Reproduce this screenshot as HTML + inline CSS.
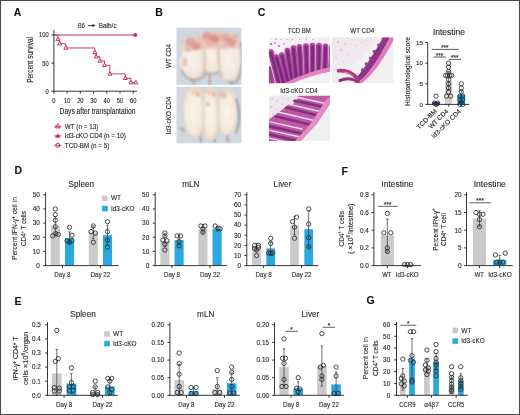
<!DOCTYPE html>
<html><head><meta charset="utf-8"><title>Figure</title>
<style>
html,body{margin:0;padding:0;background:#fff;}
body{width:520px;height:415px;overflow:hidden;}
svg{display:block;font-family:"Liberation Sans", sans-serif;filter:blur(0.3px);}
text{stroke:#2a2a2a;stroke-width:0.12px;}
</style></head>
<body>
<svg width="520" height="415" viewBox="0 0 520 415">
<rect width="520" height="415" fill="#fff"/>
<defs><filter id="bl1" x="-20%" y="-20%" width="140%" height="140%"><feGaussianBlur stdDeviation="0.9"/></filter><filter id="bl3" x="-20%" y="-20%" width="140%" height="140%"><feGaussianBlur stdDeviation="1.6"/></filter><filter id="bl2" x="-20%" y="-20%" width="140%" height="140%"><feGaussianBlur stdDeviation="0.6"/></filter><clipPath id="cpB1"><rect x="176.3" y="27.4" width="65.3" height="57.5"/></clipPath><clipPath id="cpB2"><rect x="176.3" y="86.4" width="65.3" height="57.0"/></clipPath><clipPath id="cpC1"><rect x="268.7" y="37.2" width="61.2" height="46.1"/></clipPath><clipPath id="cpC2"><rect x="331.7" y="37.2" width="61.8" height="46.1"/></clipPath><clipPath id="cpC3"><rect x="268.8" y="95.6" width="61.2" height="45.3"/></clipPath></defs>
<defs><radialGradient id="mg1" cx="50%" cy="55%" r="60%"><stop offset="0" stop-color="#f9f2ea"/><stop offset="0.65" stop-color="#f2e6dc"/><stop offset="1" stop-color="#d9c5b8"/></radialGradient><radialGradient id="mg2" cx="50%" cy="50%" r="60%"><stop offset="0" stop-color="#faf4ea"/><stop offset="0.65" stop-color="#f4eadc"/><stop offset="1" stop-color="#dccbb8"/></radialGradient></defs>
<g clip-path="url(#cpB1)">
<rect x="176.3" y="27.4" width="65.3" height="57.5" fill="#cfd6de"/>
<g filter="url(#bl1)">
<path d="M193,76 L194,86 M209.6,70 L209.6,86 M231,80 L233,86" stroke="#b39a90" stroke-width="1.8" fill="none"/>
<path d="M181,60 C180,70 186,80 194,80 C200,80 205,76 207,72 C212,74 216,74 219,72 C222,80 230,84 236,82 C241,76 242,60 241,44" stroke="#a9a29e" stroke-width="1.8" fill="none"/>
<path d="M184,40 C190,35 200,36 204,42 C207,52 206,66 204,74 C201,79 192,80 187,76 C184,72 181,68 178,64 C176,60 179,58 182,58 C182,50 181,45 184,40 Z" fill="url(#mg1)"/>
<path d="M202,35 C206,30 216,29 221,33 C224,40 224,56 222,66 C220,72 212,74 206,72 C201,66 200,50 202,35 Z" fill="url(#mg1)"/>
<path d="M218,36 C223,31 234,32 238,38 C242,46 242,62 240,72 C238,80 229,83 223,80 C218,76 216,62 216,50 C216,44 217,40 218,36 Z" fill="url(#mg1)"/>
<path d="M204,46 C206,56 205,66 203,76" stroke="#cdb8a8" stroke-width="1.4" fill="none"/>
<path d="M219,44 C218,56 219,68 222,78" stroke="#cdb8a8" stroke-width="1.4" fill="none"/>
<path d="M241,42 C243,56 242,68 239,78" stroke="#958a86" stroke-width="1.2" fill="none"/>
<path d="M184,44 C190,36 200,38 206,34 C212,30 222,32 230,34 C236,36 240,40 240,46 C236,50 228,48 222,50 C214,50 208,48 200,50 C194,52 186,52 184,44 Z" fill="#ebc3b9" opacity="0.85"/>
<ellipse cx="190" cy="42" rx="5" ry="4" fill="#e2a69c"/>
<ellipse cx="196" cy="46" rx="5" ry="4" fill="#de9c92"/>
<ellipse cx="188" cy="49" rx="4" ry="3" fill="#e8b8ae"/>
<ellipse cx="207" cy="36" rx="5" ry="4" fill="#e0a096"/>
<ellipse cx="214" cy="39" rx="5" ry="4.5" fill="#da948a"/>
<ellipse cx="210" cy="43" rx="4" ry="3" fill="#e6b0a6"/>
<ellipse cx="225" cy="38" rx="5" ry="4" fill="#e4aaa0"/>
<ellipse cx="231" cy="42" rx="5" ry="4.5" fill="#de9b90"/>
<ellipse cx="235" cy="37" rx="3" ry="3" fill="#e8b6ac"/>
<ellipse cx="226" cy="46" rx="3.5" ry="3" fill="#eabdb3"/>
<ellipse cx="201" cy="40" rx="3" ry="3" fill="#ebc0b6"/>
<ellipse cx="185" cy="62" rx="2.5" ry="4" fill="#e8c0b4"/>
</g></g>
<g clip-path="url(#cpB2)">
<rect x="176.3" y="86.4" width="65.3" height="57" fill="#d0d8e1"/>
<g filter="url(#bl1)">
<path d="M180,128 L185,131 M200,134 L201,143 M216,136 L214,143 M227,134 L228,143" stroke="#a89088" stroke-width="1.6" fill="none"/>
<path d="M236,98 C240,110 240,122 236,133" stroke="#7f7a7c" stroke-width="1.4" fill="none"/>
<path d="M187,89 C193,85 200,86 203,91 C205,104 205,122 204,133 C200,138 191,138 187,134 C184,126 183,108 183,100 C183,95 184,92 187,89 Z" fill="url(#mg2)"/>
<path d="M203,91 C206,86 214,86 217,91 C219,104 219,124 218,137 C214,141 206,141 203,137 C201,126 201,106 203,91 Z" fill="url(#mg2)"/>
<path d="M217,92 C221,88 230,88 233,93 C237,103 238,120 236,130 C233,136 225,137 220,133 C217,124 216,106 217,92 Z" fill="url(#mg2)"/>
<path d="M203.5,96 C204.5,110 204.5,124 203.5,134 M218,98 C218.5,110 219,124 219.5,134" stroke="#d8c6b4" stroke-width="1.1" fill="none"/>
<ellipse cx="195" cy="92" rx="4" ry="3" fill="#eccebe"/>
<ellipse cx="210" cy="92" rx="4" ry="3" fill="#eecabc"/>
<ellipse cx="223" cy="95" rx="4" ry="3.5" fill="#ebc2b2"/>
<ellipse cx="208" cy="104" rx="2" ry="1.5" fill="#d0b4a4"/>
<ellipse cx="198" cy="95" rx="1.2" ry="1.2" fill="#a88070"/>
<ellipse cx="214" cy="95" rx="1.2" ry="1.2" fill="#a88070"/>
</g></g>
<g clip-path="url(#cpC1)">
<rect x="268.7" y="37.2" width="61.2" height="46.1" fill="#f4eff4"/>
<g filter="url(#bl2)">
<circle cx="276" cy="39.5" r="0.6" fill="#a8589f"/>
<circle cx="281" cy="39.2" r="0.5" fill="#a8589f"/>
<circle cx="287" cy="39.5" r="0.6" fill="#a8589f"/>
<circle cx="292" cy="39.2" r="0.5" fill="#a8589f"/>
<circle cx="300" cy="39.5" r="0.5" fill="#a8589f"/>
<circle cx="306" cy="39.3" r="0.5" fill="#a8589f"/>
<circle cx="313" cy="39.2" r="0.5" fill="#a8589f"/>
<circle cx="271" cy="44" r="1.1" fill="#a8589f"/>
<circle cx="275" cy="43" r="0.8" fill="#a8589f"/>
<circle cx="279" cy="46" r="0.9" fill="#a8589f"/>
<circle cx="284" cy="44" r="0.7" fill="#a8589f"/>
<path d="M268.7,66 C276,68 284,70 292,70 C304,69 318,66 331,63 L331,70 C316,73 300,78 288,84 L268.7,84 Z" fill="#9a4492"/>
<path d="M271.0,52.2 L279,84" stroke="#f4e2f1" stroke-width="7.4" stroke-linecap="round"/>
<path d="M276.5,57.2 L283.5,82" stroke="#f4e2f1" stroke-width="7.4" stroke-linecap="round"/>
<path d="M282.0,55.2 L287.5,80" stroke="#f4e2f1" stroke-width="7.4" stroke-linecap="round"/>
<path d="M287.5,50.7 L291.5,78" stroke="#f4e2f1" stroke-width="7.4" stroke-linecap="round"/>
<path d="M293.5,48.2 L296,76.5" stroke="#f4e2f1" stroke-width="7.4" stroke-linecap="round"/>
<path d="M299.5,47.0 L301,75.5" stroke="#f4e2f1" stroke-width="7.4" stroke-linecap="round"/>
<path d="M306.0,46.2 L306.8,74.5" stroke="#f4e2f1" stroke-width="7.4" stroke-linecap="round"/>
<path d="M312.5,45.7 L312.6,73.5" stroke="#f4e2f1" stroke-width="7.4" stroke-linecap="round"/>
<path d="M319.0,45.7 L318.6,72.5" stroke="#f4e2f1" stroke-width="7.4" stroke-linecap="round"/>
<path d="M325.5,46.400000000000006 L324.8,71.5" stroke="#f4e2f1" stroke-width="7.4" stroke-linecap="round"/>
<path d="M332,47.7 L331,70.5" stroke="#f4e2f1" stroke-width="7.4" stroke-linecap="round"/>
<path d="M271.0,52.2 L279,84" stroke="#b04c9e" stroke-width="5.9" stroke-linecap="round"/>
<path d="M276.5,57.2 L283.5,82" stroke="#b04c9e" stroke-width="5.9" stroke-linecap="round"/>
<path d="M282.0,55.2 L287.5,80" stroke="#b04c9e" stroke-width="5.9" stroke-linecap="round"/>
<path d="M287.5,50.7 L291.5,78" stroke="#b04c9e" stroke-width="5.9" stroke-linecap="round"/>
<path d="M293.5,48.2 L296,76.5" stroke="#b04c9e" stroke-width="5.9" stroke-linecap="round"/>
<path d="M299.5,47.0 L301,75.5" stroke="#b04c9e" stroke-width="5.9" stroke-linecap="round"/>
<path d="M306.0,46.2 L306.8,74.5" stroke="#b04c9e" stroke-width="5.9" stroke-linecap="round"/>
<path d="M312.5,45.7 L312.6,73.5" stroke="#b04c9e" stroke-width="5.9" stroke-linecap="round"/>
<path d="M319.0,45.7 L318.6,72.5" stroke="#b04c9e" stroke-width="5.9" stroke-linecap="round"/>
<path d="M325.5,46.400000000000006 L324.8,71.5" stroke="#b04c9e" stroke-width="5.9" stroke-linecap="round"/>
<path d="M332,47.7 L331,70.5" stroke="#b04c9e" stroke-width="5.9" stroke-linecap="round"/>
<path d="M271.0,53.0 L279,84" stroke="#7c2c7e" stroke-width="3.0" stroke-linecap="round"/>
<path d="M276.5,58.0 L283.5,82" stroke="#7c2c7e" stroke-width="3.0" stroke-linecap="round"/>
<path d="M282.0,56.0 L287.5,80" stroke="#7c2c7e" stroke-width="3.0" stroke-linecap="round"/>
<path d="M287.5,51.5 L291.5,78" stroke="#7c2c7e" stroke-width="3.0" stroke-linecap="round"/>
<path d="M293.5,49.0 L296,76.5" stroke="#7c2c7e" stroke-width="3.0" stroke-linecap="round"/>
<path d="M299.5,47.8 L301,75.5" stroke="#7c2c7e" stroke-width="3.0" stroke-linecap="round"/>
<path d="M306.0,47.0 L306.8,74.5" stroke="#7c2c7e" stroke-width="3.0" stroke-linecap="round"/>
<path d="M312.5,46.5 L312.6,73.5" stroke="#7c2c7e" stroke-width="3.0" stroke-linecap="round"/>
<path d="M319.0,46.5 L318.6,72.5" stroke="#7c2c7e" stroke-width="3.0" stroke-linecap="round"/>
<path d="M325.5,47.2 L324.8,71.5" stroke="#7c2c7e" stroke-width="3.0" stroke-linecap="round"/>
<path d="M332,48.5 L331,70.5" stroke="#7c2c7e" stroke-width="3.0" stroke-linecap="round"/>
<path d="M284,84 C296,77 312,71 331,67 L331,71.5 C314,74.5 300,80 292,84 Z" fill="#e088c4"/>
<path d="M292,84 C300,80 314,74.5 331,71.5 L331,84 Z" fill="#f4f1f4"/>
</g></g>
<g clip-path="url(#cpC2)">
<rect x="331.7" y="37.2" width="61.8" height="46.1" fill="#f1f0f1"/>
<g filter="url(#bl2)">
<path d="M331.7,37.2 L378,37.2 C372,46 366,54 360,60 L342,70 L331.7,72 Z" fill="#efe9ee"/>
<circle cx="338" cy="42" r="0.8" fill="#c9a0c4"/>
<circle cx="345" cy="44" r="0.7" fill="#c9a0c4"/>
<circle cx="352" cy="40" r="0.6" fill="#c9a0c4"/>
<circle cx="341" cy="50" r="0.8" fill="#c9a0c4"/>
<circle cx="348" cy="54" r="0.6" fill="#c9a0c4"/>
<circle cx="336" cy="58" r="0.7" fill="#c9a0c4"/>
<circle cx="356" cy="46" r="0.6" fill="#c9a0c4"/>
<circle cx="362" cy="42" r="0.5" fill="#c9a0c4"/>
<circle cx="344" cy="62" r="0.6" fill="#c9a0c4"/>
<circle cx="366" cy="40" r="0.5" fill="#c9a0c4"/>
<path d="M357,77 C361,72 365,67 368,62 C372,56 377,48 381,41 L383,37.2 L390,37.2 C386,45 381,54 376,62 C370,71 364,78 359,82 Z" fill="#8e3688"/>
<circle cx="366.5" cy="64" r="1.8" fill="#9c3c8e"/>
<circle cx="370.5" cy="58" r="1.6" fill="#9c3c8e"/>
<circle cx="374.5" cy="51.5" r="1.8" fill="#9c3c8e"/>
<circle cx="378.5" cy="45" r="1.5" fill="#9c3c8e"/>
<circle cx="362.5" cy="70" r="1.7" fill="#9c3c8e"/>
<circle cx="383" cy="39" r="1.4" fill="#9c3c8e"/>
<path d="M359,82 C364,78 370,71 376,62 C381,54 386,45 390,37.2 L393.5,37.2 L393.5,40.5 C389,48.5 384,57.5 379,64.5 C373,73 366,80 361.5,83.3 L357,83.3 Z" fill="#e07abb"/>
<path d="M357,78 C352,72.5 345,70 338.5,70.8" stroke="#b3367f" stroke-width="3.6" stroke-linecap="round" fill="none"/>
<path d="M358,82 C353,78.5 346,78 340,80.5" stroke="#98327f" stroke-width="3.2" stroke-linecap="round" fill="none"/>
<path d="M344,72 C348,72.5 351,74 353,76" stroke="#e8c0dc" stroke-width="0.6" fill="none"/>
</g></g>
<g clip-path="url(#cpC3)">
<rect x="268.8" y="95.6" width="61.2" height="45.3" fill="#f1f0f1"/>
<g filter="url(#bl2)">
<path d="M268.8,95.6 L300,95.6 L296,99 L284,108 L268.8,120 Z" fill="#eee7ed"/>
<circle cx="272" cy="99" r="0.7" fill="#c8a0c4"/>
<circle cx="277" cy="101" r="0.6" fill="#c8a0c4"/>
<circle cx="283" cy="98" r="0.6" fill="#c8a0c4"/>
<circle cx="271" cy="107" r="0.7" fill="#c8a0c4"/>
<circle cx="276" cy="110" r="0.6" fill="#c8a0c4"/>
<circle cx="282" cy="104" r="0.5" fill="#c8a0c4"/>
<circle cx="288" cy="99" r="0.5" fill="#c8a0c4"/>
<circle cx="273" cy="114" r="0.6" fill="#c8a0c4"/>
<path d="M268.8,119.5 L282.5,109.5 L296,98 L299,95.6 L331,95.6 L331,102.3 L316.5,124 L300.7,141 L268.8,141 Z" fill="#bc58a4"/>
<path d="M287,104 L295,97 L299,97 L293,104 Z" fill="#f2e6ef"/>
<clipPath id="cpT3"><path d="M268.8,119.5 L282.5,109.5 L296,98 L299,95.6 L331,95.6 L331,102.3 L316.5,124 L300.7,141 L268.8,141 Z"/></clipPath>
<g clip-path="url(#cpT3)">
<line x1="266" y1="125.5" x2="302" y2="133.5" stroke="#80307e" stroke-width="2.8" stroke-linecap="round"/>
<line x1="266" y1="133.5" x2="298" y2="141" stroke="#80307e" stroke-width="2.8" stroke-linecap="round"/>
<line x1="276" y1="116.5" x2="312" y2="125" stroke="#80307e" stroke-width="2.8" stroke-linecap="round"/>
<line x1="286" y1="107.5" x2="318" y2="115.5" stroke="#80307e" stroke-width="2.8" stroke-linecap="round"/>
<line x1="294" y1="100.5" x2="326" y2="107.5" stroke="#80307e" stroke-width="2.8" stroke-linecap="round"/>
<line x1="262" y1="141" x2="290" y2="147" stroke="#80307e" stroke-width="2.8" stroke-linecap="round"/>
<line x1="266" y1="121" x2="302" y2="129" stroke="#f2d8ec" stroke-width="1.3" stroke-linecap="round"/>
<line x1="266" y1="129.5" x2="300" y2="137" stroke="#f2d8ec" stroke-width="1.3" stroke-linecap="round"/>
<line x1="266" y1="137.5" x2="296" y2="144" stroke="#f2d8ec" stroke-width="1.3" stroke-linecap="round"/>
<line x1="278" y1="112" x2="314" y2="120.5" stroke="#f2d8ec" stroke-width="1.3" stroke-linecap="round"/>
<line x1="288" y1="104" x2="320" y2="111.5" stroke="#f2d8ec" stroke-width="1.3" stroke-linecap="round"/>
<line x1="296" y1="97" x2="328" y2="104" stroke="#f2d8ec" stroke-width="1.3" stroke-linecap="round"/>
</g>
<path d="M331,97 L331,102.3 L316.5,124 L300.7,141 L295,141 L311.5,122.5 L326.5,99 Z" fill="#e68cc4"/>
</g></g>
<rect x="0.5" y="0.5" width="519" height="414" fill="none" stroke="#4d4d4d" stroke-width="1.1"/>
<text x="13.80" y="16.00" font-size="10.5" text-anchor="start" fill="#111" font-weight="bold" >A</text>
<line x1="53.90" y1="29.80" x2="53.90" y2="91.65" stroke="#222" stroke-width="0.9"/>
<line x1="53.45" y1="91.20" x2="137.00" y2="91.20" stroke="#222" stroke-width="0.9"/>
<line x1="51.30" y1="91.20" x2="53.90" y2="91.20" stroke="#222" stroke-width="0.9"/>
<line x1="51.30" y1="63.10" x2="53.90" y2="63.10" stroke="#222" stroke-width="0.9"/>
<line x1="51.30" y1="35.00" x2="53.90" y2="35.00" stroke="#222" stroke-width="0.9"/>
<text x="48.60" y="37.40" font-size="6.8" text-anchor="end" fill="#2a2a2a" textLength="9.60" lengthAdjust="spacingAndGlyphs" >100</text>
<text x="48.60" y="65.50" font-size="6.8" text-anchor="end" fill="#2a2a2a" textLength="6.40" lengthAdjust="spacingAndGlyphs" >50</text>
<text x="48.60" y="93.60" font-size="6.8" text-anchor="end" fill="#2a2a2a" textLength="3.20" lengthAdjust="spacingAndGlyphs" >0</text>
<line x1="53.90" y1="91.20" x2="53.90" y2="93.60" stroke="#222" stroke-width="0.9"/>
<text x="53.90" y="103.00" font-size="6.8" text-anchor="middle" fill="#2a2a2a" textLength="3.20" lengthAdjust="spacingAndGlyphs" >0</text>
<line x1="67.12" y1="91.20" x2="67.12" y2="93.60" stroke="#222" stroke-width="0.9"/>
<text x="67.12" y="103.00" font-size="6.8" text-anchor="middle" fill="#2a2a2a" textLength="6.40" lengthAdjust="spacingAndGlyphs" >10</text>
<line x1="80.34" y1="91.20" x2="80.34" y2="93.60" stroke="#222" stroke-width="0.9"/>
<text x="80.34" y="103.00" font-size="6.8" text-anchor="middle" fill="#2a2a2a" textLength="6.40" lengthAdjust="spacingAndGlyphs" >20</text>
<line x1="93.56" y1="91.20" x2="93.56" y2="93.60" stroke="#222" stroke-width="0.9"/>
<text x="93.56" y="103.00" font-size="6.8" text-anchor="middle" fill="#2a2a2a" textLength="6.40" lengthAdjust="spacingAndGlyphs" >30</text>
<line x1="106.78" y1="91.20" x2="106.78" y2="93.60" stroke="#222" stroke-width="0.9"/>
<text x="106.78" y="103.00" font-size="6.8" text-anchor="middle" fill="#2a2a2a" textLength="6.40" lengthAdjust="spacingAndGlyphs" >40</text>
<line x1="120.00" y1="91.20" x2="120.00" y2="93.60" stroke="#222" stroke-width="0.9"/>
<text x="120.00" y="103.00" font-size="6.8" text-anchor="middle" fill="#2a2a2a" textLength="6.40" lengthAdjust="spacingAndGlyphs" >50</text>
<line x1="133.22" y1="91.20" x2="133.22" y2="93.60" stroke="#222" stroke-width="0.9"/>
<text x="133.22" y="103.00" font-size="6.8" text-anchor="middle" fill="#2a2a2a" textLength="6.40" lengthAdjust="spacingAndGlyphs" >60</text>
<text x="97.50" y="114.40" font-size="8.2" text-anchor="middle" fill="#2a2a2a" textLength="75.80" lengthAdjust="spacingAndGlyphs" >Days after transplantation</text>
<text x="33.30" y="59.90" font-size="8.5" text-anchor="middle" fill="#2a2a2a" textLength="45.90" lengthAdjust="spacingAndGlyphs" transform="rotate(-90 33.30 59.90)" >Percent survival</text>
<text x="77.90" y="27.70" font-size="6.3" text-anchor="start" fill="#2a2a2a" textLength="6.90" lengthAdjust="spacingAndGlyphs" >B6</text>
<line x1="88.00" y1="25.60" x2="93.50" y2="25.60" stroke="#222" stroke-width="0.9"/>
<path d="M92.4,24.1 L95.6,25.6 L92.4,27.1 Z" fill="#222"/>
<text x="98.80" y="27.70" font-size="6.3" text-anchor="start" fill="#2a2a2a" textLength="17.80" lengthAdjust="spacingAndGlyphs" >Balb/c</text>
<line x1="53.90" y1="35.00" x2="135.30" y2="35.00" stroke="#c42a4c" stroke-width="1.0"/>
<circle cx="135.3" cy="35.0" r="1.7" fill="#c42a4c" stroke="#c42a4c" stroke-width="0.6"/>
<path d="M53.90,35.00 L57.87,35.00 L57.87,39.32 L59.72,39.32 L59.72,43.65 L65.80,43.65 L65.80,47.97 L94.88,47.97 L94.88,52.29 L96.20,52.29 L96.20,56.62 L99.77,56.62 L99.77,60.94 L104.53,60.94 L104.53,65.26 L109.82,65.26 L109.82,73.91 L125.29,73.91 L125.29,78.23 L130.97,78.23 L130.97,82.55 L135.86,82.55" fill="none" stroke="#c42a4c" stroke-width="0.9"/>
<path d="M57.87,37.22 L59.82,40.61 L55.92,40.61 Z" fill="#fff" stroke="#c42a4c" stroke-width="0.95"/>
<path d="M59.72,41.54 L61.67,44.94 L57.77,44.94 Z" fill="#fff" stroke="#c42a4c" stroke-width="0.95"/>
<path d="M65.80,45.87 L67.75,49.26 L63.85,49.26 Z" fill="#fff" stroke="#c42a4c" stroke-width="0.95"/>
<path d="M94.88,50.19 L96.83,53.58 L92.93,53.58 Z" fill="#fff" stroke="#c42a4c" stroke-width="0.95"/>
<path d="M96.20,54.51 L98.15,57.90 L94.25,57.90 Z" fill="#fff" stroke="#c42a4c" stroke-width="0.95"/>
<path d="M99.77,58.83 L101.72,62.23 L97.82,62.23 Z" fill="#fff" stroke="#c42a4c" stroke-width="0.95"/>
<path d="M104.53,63.16 L106.48,66.55 L102.58,66.55 Z" fill="#fff" stroke="#c42a4c" stroke-width="0.95"/>
<path d="M109.82,71.80 L111.77,75.20 L107.87,75.20 Z" fill="#fff" stroke="#c42a4c" stroke-width="0.95"/>
<path d="M125.29,76.13 L127.24,79.52 L123.34,79.52 Z" fill="#fff" stroke="#c42a4c" stroke-width="0.95"/>
<path d="M130.97,80.45 L132.92,83.84 L129.02,83.84 Z" fill="#fff" stroke="#c42a4c" stroke-width="0.95"/>
<path d="M135.86,80.45 L137.81,83.84 L133.91,83.84 Z" fill="#fff" stroke="#c42a4c" stroke-width="0.95"/>
<line x1="54.30" y1="126.30" x2="61.30" y2="126.30" stroke="#c42a4c" stroke-width="0.9"/>
<path d="M57.80,123.71 L60.20,127.89 L55.40,127.89 Z" fill="#fff" stroke="#c42a4c" stroke-width="0.95"/>
<line x1="55.60" y1="126.60" x2="60.00" y2="126.60" stroke="#c42a4c" stroke-width="0.8"/>
<line x1="54.30" y1="135.90" x2="61.30" y2="135.90" stroke="#c42a4c" stroke-width="0.9"/>
<path d="M57.8,133.9 L60.0,137.3 L55.6,137.3 Z" fill="#c42a4c" stroke="#c42a4c" stroke-width="0.6"/>
<circle cx="57.8" cy="145.3" r="2.0" fill="#fff" stroke="#c42a4c" stroke-width="1.0"/>
<line x1="54.30" y1="145.30" x2="61.30" y2="145.30" stroke="#c42a4c" stroke-width="0.9"/>
<text x="64.80" y="128.50" font-size="6.9" text-anchor="start" fill="#2a2a2a" textLength="33.50" lengthAdjust="spacingAndGlyphs" >WT (n = 13)</text>
<text x="64.80" y="138.10" font-size="6.9" text-anchor="start" fill="#2a2a2a" textLength="61.00" lengthAdjust="spacingAndGlyphs" >Id3-cKO CD4 (n = 10)</text>
<text x="64.80" y="147.60" font-size="6.9" text-anchor="start" fill="#2a2a2a" textLength="44.50" lengthAdjust="spacingAndGlyphs" >TCD-BM (n = 5)</text>
<text x="155.30" y="16.20" font-size="10.5" text-anchor="start" fill="#111" font-weight="bold" >B</text>
<text x="171.00" y="55.90" font-size="6.4" text-anchor="middle" fill="#2a2a2a" textLength="24.10" lengthAdjust="spacingAndGlyphs" transform="rotate(-90 171.00 55.90)" >WT CD4</text>
<text x="171.00" y="115.40" font-size="6.4" text-anchor="middle" fill="#2a2a2a" textLength="37.60" lengthAdjust="spacingAndGlyphs" transform="rotate(-90 171.00 115.40)" >Id3-cKO CD4</text>
<text x="257.80" y="16.40" font-size="10.5" text-anchor="start" fill="#111" font-weight="bold" >C</text>
<text x="299.30" y="32.60" font-size="6.6" text-anchor="middle" fill="#2a2a2a" textLength="23.20" lengthAdjust="spacingAndGlyphs" >TCD BM</text>
<text x="362.20" y="32.60" font-size="6.6" text-anchor="middle" fill="#2a2a2a" textLength="24.00" lengthAdjust="spacingAndGlyphs" >WT CD4</text>
<text x="299.00" y="92.60" font-size="6.3" text-anchor="middle" fill="#2a2a2a" textLength="37.50" lengthAdjust="spacingAndGlyphs" >Id3-cKO CD4</text>
<text x="449.00" y="34.60" font-size="8.4" text-anchor="middle" fill="#2a2a2a" textLength="32.10" lengthAdjust="spacingAndGlyphs" >Intestine</text>
<text x="409.80" y="71.50" font-size="7.6" text-anchor="middle" fill="#2a2a2a" textLength="69.20" lengthAdjust="spacingAndGlyphs" transform="rotate(-90 409.80 71.50)" >Histopathological score</text>
<rect x="444.90" y="81.29" width="7.40" height="23.11" fill="#d4d4d4" />
<rect x="432.40" y="101.92" width="7.40" height="2.48" fill="#454d72" />
<rect x="457.60" y="94.91" width="7.40" height="9.49" fill="#1d93c8" />
<circle cx="448.60" cy="63.13" r="2.15" stroke="#2a2a2a" fill="none" stroke-width="0.85"/>
<circle cx="448.60" cy="67.26" r="2.15" stroke="#2a2a2a" fill="none" stroke-width="0.85"/>
<circle cx="448.60" cy="71.39" r="2.15" stroke="#2a2a2a" fill="none" stroke-width="0.85"/>
<circle cx="448.60" cy="79.64" r="2.15" stroke="#2a2a2a" fill="none" stroke-width="0.85"/>
<circle cx="448.60" cy="83.77" r="2.15" stroke="#2a2a2a" fill="none" stroke-width="0.85"/>
<circle cx="448.60" cy="87.89" r="2.15" stroke="#2a2a2a" fill="none" stroke-width="0.85"/>
<circle cx="448.60" cy="92.02" r="2.15" stroke="#2a2a2a" fill="none" stroke-width="0.85"/>
<circle cx="445.60" cy="75.51" r="2.15" stroke="#2a2a2a" fill="none" stroke-width="0.85"/>
<circle cx="447.60" cy="75.51" r="2.15" stroke="#2a2a2a" fill="none" stroke-width="0.85"/>
<circle cx="449.60" cy="75.51" r="2.15" stroke="#2a2a2a" fill="none" stroke-width="0.85"/>
<circle cx="451.60" cy="75.51" r="2.15" stroke="#2a2a2a" fill="none" stroke-width="0.85"/>
<circle cx="446.60" cy="96.15" r="2.15" stroke="#2a2a2a" fill="none" stroke-width="0.85"/>
<circle cx="450.60" cy="96.15" r="2.15" stroke="#2a2a2a" fill="none" stroke-width="0.85"/>
<circle cx="461.30" cy="83.77" r="2.15" stroke="#2a2a2a" fill="none" stroke-width="0.85"/>
<circle cx="461.30" cy="87.89" r="2.15" stroke="#2a2a2a" fill="none" stroke-width="0.85"/>
<circle cx="461.30" cy="92.02" r="2.15" stroke="#2a2a2a" fill="none" stroke-width="0.85"/>
<circle cx="459.80" cy="96.15" r="2.15" stroke="#123a55" fill="none" stroke-width="0.85"/>
<circle cx="462.80" cy="96.15" r="2.15" stroke="#123a55" fill="none" stroke-width="0.85"/>
<circle cx="459.80" cy="99.45" r="2.15" stroke="#123a55" fill="none" stroke-width="0.85"/>
<circle cx="462.80" cy="99.45" r="2.15" stroke="#123a55" fill="none" stroke-width="0.85"/>
<circle cx="461.30" cy="102.34" r="2.15" stroke="#123a55" fill="none" stroke-width="0.85"/>
<circle cx="459.80" cy="104.40" r="2.15" stroke="#123a55" fill="none" stroke-width="0.85"/>
<circle cx="462.80" cy="104.40" r="2.15" stroke="#123a55" fill="none" stroke-width="0.85"/>
<circle cx="436.10" cy="96.15" r="2.15" stroke="#2a2a2a" fill="none" stroke-width="0.85"/>
<circle cx="434.60" cy="103.16" r="2.15" stroke="#23263a" fill="none" stroke-width="0.85"/>
<circle cx="437.60" cy="103.16" r="2.15" stroke="#23263a" fill="none" stroke-width="0.85"/>
<circle cx="436.10" cy="104.40" r="2.15" stroke="#23263a" fill="none" stroke-width="0.85"/>
<line x1="448.60" y1="89.54" x2="448.60" y2="71.39" stroke="#333" stroke-width="0.7"/>
<line x1="446.60" y1="71.39" x2="450.60" y2="71.39" stroke="#333" stroke-width="0.7"/>
<line x1="446.60" y1="89.54" x2="450.60" y2="89.54" stroke="#333" stroke-width="0.7"/>
<line x1="461.30" y1="101.92" x2="461.30" y2="90.37" stroke="#333" stroke-width="0.7"/>
<line x1="459.30" y1="90.37" x2="463.30" y2="90.37" stroke="#333" stroke-width="0.7"/>
<line x1="459.30" y1="101.92" x2="463.30" y2="101.92" stroke="#333" stroke-width="0.7"/>
<line x1="427.70" y1="42.30" x2="427.70" y2="104.85" stroke="#222" stroke-width="0.9"/>
<line x1="427.25" y1="104.40" x2="469.30" y2="104.40" stroke="#222" stroke-width="0.9"/>
<line x1="425.30" y1="104.40" x2="427.70" y2="104.40" stroke="#222" stroke-width="0.9"/>
<text x="423.00" y="106.60" font-size="6.2" text-anchor="end" fill="#2a2a2a" >0</text>
<line x1="425.30" y1="83.77" x2="427.70" y2="83.77" stroke="#222" stroke-width="0.9"/>
<text x="423.00" y="85.97" font-size="6.2" text-anchor="end" fill="#2a2a2a" >5</text>
<line x1="425.30" y1="63.13" x2="427.70" y2="63.13" stroke="#222" stroke-width="0.9"/>
<text x="423.00" y="65.33" font-size="6.2" text-anchor="end" fill="#2a2a2a" >10</text>
<line x1="425.30" y1="42.50" x2="427.70" y2="42.50" stroke="#222" stroke-width="0.9"/>
<text x="423.00" y="44.70" font-size="6.2" text-anchor="end" fill="#2a2a2a" >15</text>
<line x1="436.10" y1="104.40" x2="436.10" y2="106.60" stroke="#222" stroke-width="0.9"/>
<line x1="448.60" y1="104.40" x2="448.60" y2="106.60" stroke="#222" stroke-width="0.9"/>
<line x1="461.30" y1="104.40" x2="461.30" y2="106.60" stroke="#222" stroke-width="0.9"/>
<line x1="431.70" y1="49.40" x2="458.30" y2="49.40" stroke="#222" stroke-width="0.75"/>
<text x="444.80" y="49.60" font-size="6.8" text-anchor="middle" fill="#2a2a2a" textLength="7.50" lengthAdjust="spacingAndGlyphs" >***</text>
<line x1="433.50" y1="57.00" x2="445.90" y2="57.00" stroke="#222" stroke-width="0.75"/>
<text x="439.60" y="57.50" font-size="6.8" text-anchor="middle" fill="#2a2a2a" textLength="7.50" lengthAdjust="spacingAndGlyphs" >***</text>
<line x1="448.80" y1="59.40" x2="460.90" y2="59.40" stroke="#222" stroke-width="0.75"/>
<text x="454.80" y="60.20" font-size="6.8" text-anchor="middle" fill="#2a2a2a" textLength="7.50" lengthAdjust="spacingAndGlyphs" >***</text>
<text x="437.30" y="111.60" font-size="6.6" text-anchor="end" fill="#2a2a2a" textLength="25.50" lengthAdjust="spacingAndGlyphs" transform="rotate(-45 437.30 111.60)" >TCD-BM</text>
<text x="448.90" y="111.60" font-size="6.6" text-anchor="end" fill="#2a2a2a" textLength="25.00" lengthAdjust="spacingAndGlyphs" transform="rotate(-45 448.90 111.60)" >WT CD4</text>
<text x="461.30" y="111.60" font-size="6.6" text-anchor="end" fill="#2a2a2a" textLength="38.50" lengthAdjust="spacingAndGlyphs" transform="rotate(-45 461.30 111.60)" >Id3-cKO CD4</text>
<text x="14.50" y="174.00" font-size="10.5" text-anchor="start" fill="#111" font-weight="bold" >D</text>
<text x="17.0" y="228.6" font-size="7.3" text-anchor="middle" fill="#2a2a2a" transform="rotate(-90 17.0 228.6)" textLength="63" lengthAdjust="spacingAndGlyphs">Percent IFN-γ<tspan font-size="4.6" dy="-2.4">+</tspan><tspan dy="2.4"> cell in</tspan></text>
<text x="26.5" y="228.6" font-size="7.3" text-anchor="middle" fill="#2a2a2a" transform="rotate(-90 26.5 228.6)" textLength="35" lengthAdjust="spacingAndGlyphs">CD4<tspan font-size="4.6" dy="-2.4">+</tspan><tspan dy="2.4"> T cells</tspan></text>
<rect x="50.75" y="225.95" width="9.10" height="39.65" fill="#cbcacb" />
<rect x="64.95" y="237.99" width="9.10" height="27.61" fill="#29a8e2" />
<rect x="88.75" y="232.32" width="9.10" height="33.28" fill="#cbcacb" />
<rect x="102.95" y="235.16" width="9.10" height="30.44" fill="#29a8e2" />
<line x1="55.30" y1="235.16" x2="55.30" y2="216.75" stroke="#333" stroke-width="0.7"/>
<line x1="54.10" y1="216.75" x2="56.50" y2="216.75" stroke="#333" stroke-width="0.7"/>
<line x1="54.10" y1="235.16" x2="56.50" y2="235.16" stroke="#333" stroke-width="0.7"/>
<circle cx="55.30" cy="208.96" r="2.15" stroke="#2a2a2a" fill="none" stroke-width="0.85"/>
<circle cx="55.30" cy="214.62" r="2.15" stroke="#2a2a2a" fill="none" stroke-width="0.85"/>
<circle cx="55.30" cy="220.29" r="2.15" stroke="#2a2a2a" fill="none" stroke-width="0.85"/>
<circle cx="55.30" cy="226.66" r="2.15" stroke="#2a2a2a" fill="none" stroke-width="0.85"/>
<circle cx="52.80" cy="235.86" r="2.15" stroke="#2a2a2a" fill="none" stroke-width="0.85"/>
<circle cx="55.80" cy="233.74" r="2.15" stroke="#2a2a2a" fill="none" stroke-width="0.85"/>
<circle cx="58.30" cy="234.45" r="2.15" stroke="#2a2a2a" fill="none" stroke-width="0.85"/>
<line x1="69.50" y1="244.08" x2="69.50" y2="231.90" stroke="#333" stroke-width="0.7"/>
<line x1="68.30" y1="231.90" x2="70.70" y2="231.90" stroke="#333" stroke-width="0.7"/>
<line x1="68.30" y1="244.08" x2="70.70" y2="244.08" stroke="#333" stroke-width="0.7"/>
<circle cx="69.50" cy="227.37" r="2.15" stroke="#2a2a2a" fill="none" stroke-width="0.85"/>
<circle cx="72.00" cy="235.16" r="2.15" stroke="#2a2a2a" fill="none" stroke-width="0.85"/>
<circle cx="67.00" cy="240.82" r="2.15" stroke="#2a2a2a" fill="none" stroke-width="0.85"/>
<circle cx="69.50" cy="242.24" r="2.15" stroke="#2a2a2a" fill="none" stroke-width="0.85"/>
<circle cx="72.00" cy="240.82" r="2.15" stroke="#2a2a2a" fill="none" stroke-width="0.85"/>
<line x1="93.30" y1="238.70" x2="93.30" y2="225.95" stroke="#333" stroke-width="0.7"/>
<line x1="92.10" y1="225.95" x2="94.50" y2="225.95" stroke="#333" stroke-width="0.7"/>
<line x1="92.10" y1="238.70" x2="94.50" y2="238.70" stroke="#333" stroke-width="0.7"/>
<circle cx="93.30" cy="225.95" r="2.15" stroke="#2a2a2a" fill="none" stroke-width="0.85"/>
<circle cx="91.00" cy="231.62" r="2.15" stroke="#2a2a2a" fill="none" stroke-width="0.85"/>
<circle cx="95.30" cy="233.03" r="2.15" stroke="#2a2a2a" fill="none" stroke-width="0.85"/>
<circle cx="93.30" cy="242.24" r="2.15" stroke="#2a2a2a" fill="none" stroke-width="0.85"/>
<line x1="107.50" y1="245.07" x2="107.50" y2="225.24" stroke="#333" stroke-width="0.7"/>
<line x1="106.30" y1="225.24" x2="108.70" y2="225.24" stroke="#333" stroke-width="0.7"/>
<line x1="106.30" y1="245.07" x2="108.70" y2="245.07" stroke="#333" stroke-width="0.7"/>
<circle cx="107.50" cy="221.70" r="2.15" stroke="#2a2a2a" fill="none" stroke-width="0.85"/>
<circle cx="107.50" cy="231.62" r="2.15" stroke="#2a2a2a" fill="none" stroke-width="0.85"/>
<circle cx="107.50" cy="240.11" r="2.15" stroke="#2a2a2a" fill="none" stroke-width="0.85"/>
<circle cx="107.50" cy="247.19" r="2.15" stroke="#2a2a2a" fill="none" stroke-width="0.85"/>
<line x1="45.60" y1="192.20" x2="45.60" y2="266.05" stroke="#222" stroke-width="0.9"/>
<line x1="45.15" y1="265.60" x2="118.60" y2="265.60" stroke="#222" stroke-width="0.9"/>
<line x1="43.20" y1="265.60" x2="45.60" y2="265.60" stroke="#222" stroke-width="0.9"/>
<text x="39.80" y="267.90" font-size="6.4" text-anchor="end" fill="#2a2a2a" >0</text>
<line x1="43.20" y1="251.44" x2="45.60" y2="251.44" stroke="#222" stroke-width="0.9"/>
<text x="39.80" y="253.74" font-size="6.4" text-anchor="end" fill="#2a2a2a" >10</text>
<line x1="43.20" y1="237.28" x2="45.60" y2="237.28" stroke="#222" stroke-width="0.9"/>
<text x="39.80" y="239.58" font-size="6.4" text-anchor="end" fill="#2a2a2a" >20</text>
<line x1="43.20" y1="223.12" x2="45.60" y2="223.12" stroke="#222" stroke-width="0.9"/>
<text x="39.80" y="225.42" font-size="6.4" text-anchor="end" fill="#2a2a2a" >30</text>
<line x1="43.20" y1="208.96" x2="45.60" y2="208.96" stroke="#222" stroke-width="0.9"/>
<text x="39.80" y="211.26" font-size="6.4" text-anchor="end" fill="#2a2a2a" >40</text>
<line x1="43.20" y1="194.80" x2="45.60" y2="194.80" stroke="#222" stroke-width="0.9"/>
<text x="39.80" y="197.10" font-size="6.4" text-anchor="end" fill="#2a2a2a" >50</text>
<line x1="62.40" y1="265.60" x2="62.40" y2="268.10" stroke="#222" stroke-width="0.9"/>
<line x1="100.40" y1="265.60" x2="100.40" y2="268.10" stroke="#222" stroke-width="0.9"/>
<text x="62.40" y="277.40" font-size="7.1" text-anchor="middle" fill="#2a2a2a" textLength="16.10" lengthAdjust="spacingAndGlyphs" >Day 8</text>
<text x="100.40" y="277.40" font-size="7.1" text-anchor="middle" fill="#2a2a2a" textLength="19.90" lengthAdjust="spacingAndGlyphs" >Day 22</text>
<text x="81.30" y="186.90" font-size="8.4" text-anchor="middle" fill="#2a2a2a" textLength="25.60" lengthAdjust="spacingAndGlyphs" >Spleen</text>
<rect x="102.10" y="195.60" width="5.70" height="5.50" fill="#cbcacb" />
<rect x="102.10" y="205.80" width="5.70" height="5.50" fill="#29a8e2" />
<text x="110.90" y="200.40" font-size="6.6" text-anchor="start" fill="#2a2a2a" >WT</text>
<text x="110.90" y="210.60" font-size="6.6" text-anchor="start" fill="#2a2a2a" textLength="23.50" lengthAdjust="spacingAndGlyphs" >Id3-cKO</text>
<rect x="160.35" y="240.82" width="9.10" height="24.78" fill="#cbcacb" />
<rect x="174.55" y="240.11" width="9.10" height="25.49" fill="#29a8e2" />
<rect x="198.35" y="228.78" width="9.10" height="36.82" fill="#cbcacb" />
<rect x="212.55" y="228.78" width="9.10" height="36.82" fill="#29a8e2" />
<line x1="164.90" y1="246.48" x2="164.90" y2="235.16" stroke="#333" stroke-width="0.7"/>
<line x1="163.70" y1="235.16" x2="166.10" y2="235.16" stroke="#333" stroke-width="0.7"/>
<line x1="163.70" y1="246.48" x2="166.10" y2="246.48" stroke="#333" stroke-width="0.7"/>
<circle cx="164.90" cy="233.03" r="2.15" stroke="#2a2a2a" fill="none" stroke-width="0.85"/>
<circle cx="164.90" cy="235.86" r="2.15" stroke="#2a2a2a" fill="none" stroke-width="0.85"/>
<circle cx="162.90" cy="240.11" r="2.15" stroke="#2a2a2a" fill="none" stroke-width="0.85"/>
<circle cx="166.90" cy="240.82" r="2.15" stroke="#2a2a2a" fill="none" stroke-width="0.85"/>
<circle cx="164.90" cy="244.36" r="2.15" stroke="#2a2a2a" fill="none" stroke-width="0.85"/>
<circle cx="164.90" cy="250.02" r="2.15" stroke="#2a2a2a" fill="none" stroke-width="0.85"/>
<line x1="179.10" y1="245.07" x2="179.10" y2="235.16" stroke="#333" stroke-width="0.7"/>
<line x1="177.90" y1="235.16" x2="180.30" y2="235.16" stroke="#333" stroke-width="0.7"/>
<line x1="177.90" y1="245.07" x2="180.30" y2="245.07" stroke="#333" stroke-width="0.7"/>
<circle cx="177.10" cy="235.86" r="2.15" stroke="#2a2a2a" fill="none" stroke-width="0.85"/>
<circle cx="180.60" cy="235.86" r="2.15" stroke="#2a2a2a" fill="none" stroke-width="0.85"/>
<circle cx="179.10" cy="241.53" r="2.15" stroke="#2a2a2a" fill="none" stroke-width="0.85"/>
<circle cx="179.10" cy="245.78" r="2.15" stroke="#2a2a2a" fill="none" stroke-width="0.85"/>
<line x1="202.90" y1="233.03" x2="202.90" y2="224.54" stroke="#333" stroke-width="0.7"/>
<line x1="201.70" y1="224.54" x2="204.10" y2="224.54" stroke="#333" stroke-width="0.7"/>
<line x1="201.70" y1="233.03" x2="204.10" y2="233.03" stroke="#333" stroke-width="0.7"/>
<circle cx="200.90" cy="225.95" r="2.15" stroke="#2a2a2a" fill="none" stroke-width="0.85"/>
<circle cx="204.90" cy="225.95" r="2.15" stroke="#2a2a2a" fill="none" stroke-width="0.85"/>
<circle cx="202.90" cy="228.78" r="2.15" stroke="#2a2a2a" fill="none" stroke-width="0.85"/>
<circle cx="202.90" cy="232.32" r="2.15" stroke="#2a2a2a" fill="none" stroke-width="0.85"/>
<line x1="217.10" y1="230.91" x2="217.10" y2="226.66" stroke="#333" stroke-width="0.7"/>
<line x1="215.90" y1="226.66" x2="218.30" y2="226.66" stroke="#333" stroke-width="0.7"/>
<line x1="215.90" y1="230.91" x2="218.30" y2="230.91" stroke="#333" stroke-width="0.7"/>
<circle cx="215.10" cy="225.95" r="2.15" stroke="#2a2a2a" fill="none" stroke-width="0.85"/>
<circle cx="218.10" cy="228.08" r="2.15" stroke="#2a2a2a" fill="none" stroke-width="0.85"/>
<circle cx="220.10" cy="228.78" r="2.15" stroke="#2a2a2a" fill="none" stroke-width="0.85"/>
<line x1="155.20" y1="192.20" x2="155.20" y2="266.05" stroke="#222" stroke-width="0.9"/>
<line x1="154.75" y1="265.60" x2="227.20" y2="265.60" stroke="#222" stroke-width="0.9"/>
<line x1="152.80" y1="265.60" x2="155.20" y2="265.60" stroke="#222" stroke-width="0.9"/>
<text x="149.20" y="267.90" font-size="6.4" text-anchor="end" fill="#2a2a2a" >0</text>
<line x1="152.80" y1="251.44" x2="155.20" y2="251.44" stroke="#222" stroke-width="0.9"/>
<text x="149.20" y="253.74" font-size="6.4" text-anchor="end" fill="#2a2a2a" >10</text>
<line x1="152.80" y1="237.28" x2="155.20" y2="237.28" stroke="#222" stroke-width="0.9"/>
<text x="149.20" y="239.58" font-size="6.4" text-anchor="end" fill="#2a2a2a" >20</text>
<line x1="152.80" y1="223.12" x2="155.20" y2="223.12" stroke="#222" stroke-width="0.9"/>
<text x="149.20" y="225.42" font-size="6.4" text-anchor="end" fill="#2a2a2a" >30</text>
<line x1="152.80" y1="208.96" x2="155.20" y2="208.96" stroke="#222" stroke-width="0.9"/>
<text x="149.20" y="211.26" font-size="6.4" text-anchor="end" fill="#2a2a2a" >40</text>
<line x1="152.80" y1="194.80" x2="155.20" y2="194.80" stroke="#222" stroke-width="0.9"/>
<text x="149.20" y="197.10" font-size="6.4" text-anchor="end" fill="#2a2a2a" >50</text>
<line x1="172.00" y1="265.60" x2="172.00" y2="268.10" stroke="#222" stroke-width="0.9"/>
<line x1="210.00" y1="265.60" x2="210.00" y2="268.10" stroke="#222" stroke-width="0.9"/>
<text x="172.00" y="277.40" font-size="7.1" text-anchor="middle" fill="#2a2a2a" textLength="16.10" lengthAdjust="spacingAndGlyphs" >Day 8</text>
<text x="210.00" y="277.40" font-size="7.1" text-anchor="middle" fill="#2a2a2a" textLength="19.90" lengthAdjust="spacingAndGlyphs" >Day 22</text>
<text x="190.90" y="186.90" font-size="8.4" text-anchor="middle" fill="#2a2a2a" textLength="17.20" lengthAdjust="spacingAndGlyphs" >mLN</text>
<rect x="252.15" y="247.39" width="8.70" height="18.21" fill="#cbcacb" />
<rect x="266.35" y="248.41" width="8.70" height="17.19" fill="#29a8e2" />
<rect x="290.15" y="225.65" width="8.70" height="39.95" fill="#cbcacb" />
<rect x="304.35" y="229.19" width="8.70" height="36.41" fill="#29a8e2" />
<line x1="256.50" y1="250.93" x2="256.50" y2="243.85" stroke="#333" stroke-width="0.7"/>
<line x1="255.30" y1="243.85" x2="257.70" y2="243.85" stroke="#333" stroke-width="0.7"/>
<line x1="255.30" y1="250.93" x2="257.70" y2="250.93" stroke="#333" stroke-width="0.7"/>
<circle cx="254.50" cy="245.37" r="2.15" stroke="#2a2a2a" fill="none" stroke-width="0.85"/>
<circle cx="258.50" cy="245.37" r="2.15" stroke="#2a2a2a" fill="none" stroke-width="0.85"/>
<circle cx="254.50" cy="248.41" r="2.15" stroke="#2a2a2a" fill="none" stroke-width="0.85"/>
<circle cx="258.50" cy="247.39" r="2.15" stroke="#2a2a2a" fill="none" stroke-width="0.85"/>
<circle cx="256.50" cy="249.92" r="2.15" stroke="#2a2a2a" fill="none" stroke-width="0.85"/>
<circle cx="256.50" cy="255.49" r="2.15" stroke="#2a2a2a" fill="none" stroke-width="0.85"/>
<line x1="270.70" y1="254.47" x2="270.70" y2="242.34" stroke="#333" stroke-width="0.7"/>
<line x1="269.50" y1="242.34" x2="271.90" y2="242.34" stroke="#333" stroke-width="0.7"/>
<line x1="269.50" y1="254.47" x2="271.90" y2="254.47" stroke="#333" stroke-width="0.7"/>
<circle cx="270.70" cy="238.29" r="2.15" stroke="#2a2a2a" fill="none" stroke-width="0.85"/>
<circle cx="270.70" cy="243.35" r="2.15" stroke="#2a2a2a" fill="none" stroke-width="0.85"/>
<circle cx="270.70" cy="253.46" r="2.15" stroke="#2a2a2a" fill="none" stroke-width="0.85"/>
<circle cx="268.70" cy="252.96" r="2.15" stroke="#2a2a2a" fill="none" stroke-width="0.85"/>
<circle cx="272.70" cy="252.96" r="2.15" stroke="#2a2a2a" fill="none" stroke-width="0.85"/>
<line x1="294.50" y1="234.75" x2="294.50" y2="216.55" stroke="#333" stroke-width="0.7"/>
<line x1="293.30" y1="216.55" x2="295.70" y2="216.55" stroke="#333" stroke-width="0.7"/>
<line x1="293.30" y1="234.75" x2="295.70" y2="234.75" stroke="#333" stroke-width="0.7"/>
<circle cx="292.50" cy="221.60" r="2.15" stroke="#2a2a2a" fill="none" stroke-width="0.85"/>
<circle cx="296.50" cy="217.05" r="2.15" stroke="#2a2a2a" fill="none" stroke-width="0.85"/>
<circle cx="294.50" cy="227.17" r="2.15" stroke="#2a2a2a" fill="none" stroke-width="0.85"/>
<circle cx="294.50" cy="238.29" r="2.15" stroke="#2a2a2a" fill="none" stroke-width="0.85"/>
<line x1="308.70" y1="247.39" x2="308.70" y2="210.98" stroke="#333" stroke-width="0.7"/>
<line x1="307.50" y1="210.98" x2="309.90" y2="210.98" stroke="#333" stroke-width="0.7"/>
<line x1="307.50" y1="247.39" x2="309.90" y2="247.39" stroke="#333" stroke-width="0.7"/>
<circle cx="308.70" cy="208.96" r="2.15" stroke="#2a2a2a" fill="none" stroke-width="0.85"/>
<circle cx="308.70" cy="224.13" r="2.15" stroke="#2a2a2a" fill="none" stroke-width="0.85"/>
<circle cx="308.70" cy="237.79" r="2.15" stroke="#2a2a2a" fill="none" stroke-width="0.85"/>
<circle cx="308.70" cy="246.89" r="2.15" stroke="#2a2a2a" fill="none" stroke-width="0.85"/>
<line x1="246.80" y1="192.20" x2="246.80" y2="266.05" stroke="#222" stroke-width="0.9"/>
<line x1="246.35" y1="265.60" x2="318.50" y2="265.60" stroke="#222" stroke-width="0.9"/>
<line x1="244.40" y1="265.60" x2="246.80" y2="265.60" stroke="#222" stroke-width="0.9"/>
<text x="241.00" y="267.90" font-size="6.4" text-anchor="end" fill="#2a2a2a" >0</text>
<line x1="244.40" y1="255.49" x2="246.80" y2="255.49" stroke="#222" stroke-width="0.9"/>
<text x="241.00" y="257.79" font-size="6.4" text-anchor="end" fill="#2a2a2a" >10</text>
<line x1="244.40" y1="245.37" x2="246.80" y2="245.37" stroke="#222" stroke-width="0.9"/>
<text x="241.00" y="247.68" font-size="6.4" text-anchor="end" fill="#2a2a2a" >20</text>
<line x1="244.40" y1="235.26" x2="246.80" y2="235.26" stroke="#222" stroke-width="0.9"/>
<text x="241.00" y="237.56" font-size="6.4" text-anchor="end" fill="#2a2a2a" >30</text>
<line x1="244.40" y1="225.14" x2="246.80" y2="225.14" stroke="#222" stroke-width="0.9"/>
<text x="241.00" y="227.45" font-size="6.4" text-anchor="end" fill="#2a2a2a" >40</text>
<line x1="244.40" y1="215.03" x2="246.80" y2="215.03" stroke="#222" stroke-width="0.9"/>
<text x="241.00" y="217.33" font-size="6.4" text-anchor="end" fill="#2a2a2a" >50</text>
<line x1="244.40" y1="204.91" x2="246.80" y2="204.91" stroke="#222" stroke-width="0.9"/>
<text x="241.00" y="207.22" font-size="6.4" text-anchor="end" fill="#2a2a2a" >60</text>
<line x1="244.40" y1="194.80" x2="246.80" y2="194.80" stroke="#222" stroke-width="0.9"/>
<text x="241.00" y="197.10" font-size="6.4" text-anchor="end" fill="#2a2a2a" >70</text>
<line x1="263.60" y1="265.60" x2="263.60" y2="268.10" stroke="#222" stroke-width="0.9"/>
<line x1="301.60" y1="265.60" x2="301.60" y2="268.10" stroke="#222" stroke-width="0.9"/>
<text x="263.60" y="277.40" font-size="7.1" text-anchor="middle" fill="#2a2a2a" textLength="16.10" lengthAdjust="spacingAndGlyphs" >Day 8</text>
<text x="301.60" y="277.40" font-size="7.1" text-anchor="middle" fill="#2a2a2a" textLength="19.90" lengthAdjust="spacingAndGlyphs" >Day 22</text>
<text x="282.50" y="186.90" font-size="8.4" text-anchor="middle" fill="#2a2a2a" textLength="17.80" lengthAdjust="spacingAndGlyphs" >Liver</text>
<text x="341.60" y="174.50" font-size="10.5" text-anchor="start" fill="#111" font-weight="bold" >F</text>
<text x="343.8" y="228.8" font-size="7.3" text-anchor="middle" fill="#2a2a2a" transform="rotate(-90 343.8 228.8)" textLength="35.4" lengthAdjust="spacingAndGlyphs">CD4<tspan font-size="4.6" dy="-2.4">+</tspan><tspan dy="2.4"> T cells</tspan></text>
<text x="352.6" y="228.8" font-size="7.3" text-anchor="middle" fill="#2a2a2a" transform="rotate(-90 352.6 228.8)" textLength="50.6" lengthAdjust="spacingAndGlyphs">( ×10<tspan font-size="4.6" dy="-2.4">6</tspan><tspan dy="2.4">/intestine)</tspan></text>
<rect x="380.75" y="235.51" width="13.10" height="30.09" fill="#cbcacb" />
<rect x="400.95" y="264.72" width="13.10" height="0.88" fill="#29a8e2" />
<line x1="387.30" y1="251.88" x2="387.30" y2="219.14" stroke="#333" stroke-width="0.7"/>
<line x1="386.10" y1="219.14" x2="388.50" y2="219.14" stroke="#333" stroke-width="0.7"/>
<line x1="386.10" y1="251.88" x2="388.50" y2="251.88" stroke="#333" stroke-width="0.7"/>
<circle cx="387.30" cy="213.39" r="2.15" stroke="#2a2a2a" fill="none" stroke-width="0.85"/>
<circle cx="383.80" cy="232.86" r="2.15" stroke="#2a2a2a" fill="none" stroke-width="0.85"/>
<circle cx="390.80" cy="232.86" r="2.15" stroke="#2a2a2a" fill="none" stroke-width="0.85"/>
<circle cx="387.30" cy="247.90" r="2.15" stroke="#2a2a2a" fill="none" stroke-width="0.85"/>
<circle cx="387.30" cy="251.44" r="2.15" stroke="#2a2a2a" fill="none" stroke-width="0.85"/>
<circle cx="404.50" cy="264.54" r="2.15" stroke="#2a2a2a" fill="none" stroke-width="0.85"/>
<circle cx="407.50" cy="264.54" r="2.15" stroke="#2a2a2a" fill="none" stroke-width="0.85"/>
<circle cx="410.50" cy="264.54" r="2.15" stroke="#2a2a2a" fill="none" stroke-width="0.85"/>
<line x1="373.90" y1="192.20" x2="373.90" y2="266.05" stroke="#222" stroke-width="0.9"/>
<line x1="373.45" y1="265.60" x2="420.80" y2="265.60" stroke="#222" stroke-width="0.9"/>
<line x1="371.50" y1="265.60" x2="373.90" y2="265.60" stroke="#222" stroke-width="0.9"/>
<text x="368.80" y="267.90" font-size="6.4" text-anchor="end" fill="#2a2a2a" >0.0</text>
<line x1="371.50" y1="247.90" x2="373.90" y2="247.90" stroke="#222" stroke-width="0.9"/>
<text x="368.80" y="250.20" font-size="6.4" text-anchor="end" fill="#2a2a2a" >0.2</text>
<line x1="371.50" y1="230.20" x2="373.90" y2="230.20" stroke="#222" stroke-width="0.9"/>
<text x="368.80" y="232.50" font-size="6.4" text-anchor="end" fill="#2a2a2a" >0.4</text>
<line x1="371.50" y1="212.50" x2="373.90" y2="212.50" stroke="#222" stroke-width="0.9"/>
<text x="368.80" y="214.80" font-size="6.4" text-anchor="end" fill="#2a2a2a" >0.6</text>
<line x1="371.50" y1="194.80" x2="373.90" y2="194.80" stroke="#222" stroke-width="0.9"/>
<text x="368.80" y="197.10" font-size="6.4" text-anchor="end" fill="#2a2a2a" >0.8</text>
<line x1="387.30" y1="265.60" x2="387.30" y2="268.10" stroke="#222" stroke-width="0.9"/>
<line x1="407.50" y1="265.60" x2="407.50" y2="268.10" stroke="#222" stroke-width="0.9"/>
<text x="397.40" y="186.70" font-size="8.4" text-anchor="middle" fill="#2a2a2a" textLength="32.10" lengthAdjust="spacingAndGlyphs" >Intestine</text>
<line x1="377.70" y1="206.30" x2="397.90" y2="206.30" stroke="#222" stroke-width="0.7"/>
<text x="387.80" y="206.60" font-size="6.8" text-anchor="middle" fill="#2a2a2a" textLength="7.50" lengthAdjust="spacingAndGlyphs" >***</text>
<text x="386.80" y="276.80" font-size="6.4" text-anchor="middle" fill="#2a2a2a" textLength="9.10" lengthAdjust="spacingAndGlyphs" >WT</text>
<text x="407.20" y="276.80" font-size="6.4" text-anchor="middle" fill="#2a2a2a" textLength="23.10" lengthAdjust="spacingAndGlyphs" >Id3-cKO</text>
<text x="437.6" y="229.6" font-size="7.3" text-anchor="middle" fill="#2a2a2a" transform="rotate(-90 437.6 229.6)" textLength="42.2" lengthAdjust="spacingAndGlyphs">Percent IFN-γ<tspan font-size="4.6" dy="-2.4">+</tspan></text>
<text x="446.2" y="229.6" font-size="7.3" text-anchor="middle" fill="#2a2a2a" transform="rotate(-90 446.2 229.6)" textLength="33" lengthAdjust="spacingAndGlyphs">CD4<tspan font-size="4.6" dy="-2.4">+</tspan><tspan dy="2.4"> T cell</tspan></text>
<rect x="472.90" y="218.52" width="13.20" height="47.08" fill="#cbcacb" />
<rect x="493.10" y="259.94" width="13.20" height="5.66" fill="#29a8e2" />
<line x1="479.50" y1="226.31" x2="479.50" y2="210.73" stroke="#333" stroke-width="0.7"/>
<line x1="478.30" y1="210.73" x2="480.70" y2="210.73" stroke="#333" stroke-width="0.7"/>
<line x1="478.30" y1="226.31" x2="480.70" y2="226.31" stroke="#333" stroke-width="0.7"/>
<circle cx="476.00" cy="212.50" r="2.15" stroke="#2a2a2a" fill="none" stroke-width="0.85"/>
<circle cx="479.50" cy="214.27" r="2.15" stroke="#2a2a2a" fill="none" stroke-width="0.85"/>
<circle cx="483.00" cy="214.27" r="2.15" stroke="#2a2a2a" fill="none" stroke-width="0.85"/>
<circle cx="479.50" cy="219.58" r="2.15" stroke="#2a2a2a" fill="none" stroke-width="0.85"/>
<circle cx="479.50" cy="226.66" r="2.15" stroke="#2a2a2a" fill="none" stroke-width="0.85"/>
<line x1="499.70" y1="264.54" x2="499.70" y2="255.33" stroke="#333" stroke-width="0.7"/>
<line x1="498.50" y1="255.33" x2="500.90" y2="255.33" stroke="#333" stroke-width="0.7"/>
<line x1="498.50" y1="264.54" x2="500.90" y2="264.54" stroke="#333" stroke-width="0.7"/>
<circle cx="495.40" cy="254.98" r="2.15" stroke="#2a2a2a" fill="none" stroke-width="0.85"/>
<circle cx="505.20" cy="253.21" r="2.15" stroke="#2a2a2a" fill="none" stroke-width="0.85"/>
<circle cx="496.70" cy="262.06" r="2.15" stroke="#2a2a2a" fill="none" stroke-width="0.85"/>
<circle cx="499.70" cy="262.06" r="2.15" stroke="#2a2a2a" fill="none" stroke-width="0.85"/>
<circle cx="502.70" cy="262.06" r="2.15" stroke="#2a2a2a" fill="none" stroke-width="0.85"/>
<line x1="466.50" y1="192.20" x2="466.50" y2="266.05" stroke="#222" stroke-width="0.9"/>
<line x1="466.05" y1="265.60" x2="512.70" y2="265.60" stroke="#222" stroke-width="0.9"/>
<line x1="464.10" y1="265.60" x2="466.50" y2="265.60" stroke="#222" stroke-width="0.9"/>
<text x="461.60" y="267.90" font-size="6.4" text-anchor="end" fill="#2a2a2a" >0</text>
<line x1="464.10" y1="247.90" x2="466.50" y2="247.90" stroke="#222" stroke-width="0.9"/>
<text x="461.60" y="250.20" font-size="6.4" text-anchor="end" fill="#2a2a2a" >5</text>
<line x1="464.10" y1="230.20" x2="466.50" y2="230.20" stroke="#222" stroke-width="0.9"/>
<text x="461.60" y="232.50" font-size="6.4" text-anchor="end" fill="#2a2a2a" >10</text>
<line x1="464.10" y1="212.50" x2="466.50" y2="212.50" stroke="#222" stroke-width="0.9"/>
<text x="461.60" y="214.80" font-size="6.4" text-anchor="end" fill="#2a2a2a" >15</text>
<line x1="464.10" y1="194.80" x2="466.50" y2="194.80" stroke="#222" stroke-width="0.9"/>
<text x="461.60" y="197.10" font-size="6.4" text-anchor="end" fill="#2a2a2a" >20</text>
<line x1="479.50" y1="265.60" x2="479.50" y2="268.10" stroke="#222" stroke-width="0.9"/>
<line x1="499.70" y1="265.60" x2="499.70" y2="268.10" stroke="#222" stroke-width="0.9"/>
<text x="489.80" y="186.70" font-size="8.4" text-anchor="middle" fill="#2a2a2a" textLength="32.10" lengthAdjust="spacingAndGlyphs" >Intestine</text>
<line x1="469.00" y1="202.80" x2="490.80" y2="202.80" stroke="#222" stroke-width="0.7"/>
<text x="479.90" y="203.10" font-size="6.8" text-anchor="middle" fill="#2a2a2a" textLength="7.50" lengthAdjust="spacingAndGlyphs" >***</text>
<text x="479.20" y="276.80" font-size="6.4" text-anchor="middle" fill="#2a2a2a" textLength="9.10" lengthAdjust="spacingAndGlyphs" >WT</text>
<text x="500.00" y="276.80" font-size="6.4" text-anchor="middle" fill="#2a2a2a" textLength="23.50" lengthAdjust="spacingAndGlyphs" >Id3-cKO</text>
<text x="14.50" y="304.60" font-size="10.5" text-anchor="start" fill="#111" font-weight="bold" >E</text>
<text x="18.3" y="358.5" font-size="7.3" text-anchor="middle" fill="#2a2a2a" transform="rotate(-90 18.3 358.5)" textLength="43.9" lengthAdjust="spacingAndGlyphs">IFN-γ<tspan font-size="4.6" dy="-2.4">+</tspan><tspan dy="2.4"> CD4</tspan><tspan font-size="4.6" dy="-2.4">+</tspan><tspan dy="2.4"> T</tspan></text>
<text x="27.9" y="358.5" font-size="7.3" text-anchor="middle" fill="#2a2a2a" transform="rotate(-90 27.9 358.5)" textLength="53.2" lengthAdjust="spacingAndGlyphs">cells ×10<tspan font-size="4.6" dy="-2.4">6</tspan><tspan dy="2.4">/organ</tspan></text>
<rect x="51.90" y="373.44" width="9.80" height="21.86" fill="#cbcacb" />
<rect x="66.50" y="383.60" width="9.80" height="11.70" fill="#29a8e2" />
<rect x="90.30" y="392.48" width="9.80" height="2.82" fill="#cbcacb" />
<rect x="104.90" y="386.42" width="9.80" height="8.88" fill="#29a8e2" />
<line x1="56.80" y1="395.30" x2="56.80" y2="349.48" stroke="#333" stroke-width="0.7"/>
<line x1="55.60" y1="349.48" x2="58.00" y2="349.48" stroke="#333" stroke-width="0.7"/>
<line x1="55.60" y1="395.30" x2="58.00" y2="395.30" stroke="#333" stroke-width="0.7"/>
<circle cx="56.80" cy="330.44" r="2.15" stroke="#2a2a2a" fill="none" stroke-width="0.85"/>
<circle cx="58.30" cy="358.64" r="2.15" stroke="#2a2a2a" fill="none" stroke-width="0.85"/>
<circle cx="55.30" cy="361.46" r="2.15" stroke="#2a2a2a" fill="none" stroke-width="0.85"/>
<circle cx="54.30" cy="387.55" r="2.15" stroke="#2a2a2a" fill="none" stroke-width="0.85"/>
<circle cx="59.30" cy="388.25" r="2.15" stroke="#2a2a2a" fill="none" stroke-width="0.85"/>
<circle cx="54.30" cy="391.07" r="2.15" stroke="#2a2a2a" fill="none" stroke-width="0.85"/>
<circle cx="59.30" cy="391.07" r="2.15" stroke="#2a2a2a" fill="none" stroke-width="0.85"/>
<line x1="71.40" y1="393.47" x2="71.40" y2="373.73" stroke="#333" stroke-width="0.7"/>
<line x1="70.20" y1="373.73" x2="72.60" y2="373.73" stroke="#333" stroke-width="0.7"/>
<line x1="70.20" y1="393.47" x2="72.60" y2="393.47" stroke="#333" stroke-width="0.7"/>
<circle cx="71.40" cy="367.81" r="2.15" stroke="#2a2a2a" fill="none" stroke-width="0.85"/>
<circle cx="71.40" cy="382.61" r="2.15" stroke="#2a2a2a" fill="none" stroke-width="0.85"/>
<circle cx="69.40" cy="386.84" r="2.15" stroke="#2a2a2a" fill="none" stroke-width="0.85"/>
<circle cx="73.40" cy="386.84" r="2.15" stroke="#2a2a2a" fill="none" stroke-width="0.85"/>
<circle cx="69.40" cy="390.37" r="2.15" stroke="#2a2a2a" fill="none" stroke-width="0.85"/>
<circle cx="73.40" cy="390.37" r="2.15" stroke="#2a2a2a" fill="none" stroke-width="0.85"/>
<line x1="95.20" y1="395.30" x2="95.20" y2="386.84" stroke="#333" stroke-width="0.7"/>
<line x1="94.00" y1="386.84" x2="96.40" y2="386.84" stroke="#333" stroke-width="0.7"/>
<line x1="94.00" y1="395.30" x2="96.40" y2="395.30" stroke="#333" stroke-width="0.7"/>
<circle cx="95.20" cy="381.20" r="2.15" stroke="#2a2a2a" fill="none" stroke-width="0.85"/>
<circle cx="95.20" cy="386.84" r="2.15" stroke="#2a2a2a" fill="none" stroke-width="0.85"/>
<circle cx="92.70" cy="392.48" r="2.15" stroke="#2a2a2a" fill="none" stroke-width="0.85"/>
<circle cx="97.70" cy="392.48" r="2.15" stroke="#2a2a2a" fill="none" stroke-width="0.85"/>
<circle cx="92.70" cy="394.60" r="2.15" stroke="#2a2a2a" fill="none" stroke-width="0.85"/>
<circle cx="97.70" cy="394.60" r="2.15" stroke="#2a2a2a" fill="none" stroke-width="0.85"/>
<line x1="109.80" y1="394.88" x2="109.80" y2="377.96" stroke="#333" stroke-width="0.7"/>
<line x1="108.60" y1="377.96" x2="111.00" y2="377.96" stroke="#333" stroke-width="0.7"/>
<line x1="108.60" y1="394.88" x2="111.00" y2="394.88" stroke="#333" stroke-width="0.7"/>
<circle cx="107.80" cy="378.38" r="2.15" stroke="#2a2a2a" fill="none" stroke-width="0.85"/>
<circle cx="111.80" cy="378.38" r="2.15" stroke="#2a2a2a" fill="none" stroke-width="0.85"/>
<circle cx="109.80" cy="381.20" r="2.15" stroke="#2a2a2a" fill="none" stroke-width="0.85"/>
<circle cx="107.80" cy="386.84" r="2.15" stroke="#2a2a2a" fill="none" stroke-width="0.85"/>
<circle cx="111.80" cy="389.66" r="2.15" stroke="#2a2a2a" fill="none" stroke-width="0.85"/>
<circle cx="109.80" cy="392.48" r="2.15" stroke="#2a2a2a" fill="none" stroke-width="0.85"/>
<line x1="47.50" y1="322.20" x2="47.50" y2="395.75" stroke="#222" stroke-width="0.9"/>
<line x1="47.05" y1="395.30" x2="117.80" y2="395.30" stroke="#222" stroke-width="0.9"/>
<line x1="45.10" y1="395.30" x2="47.50" y2="395.30" stroke="#222" stroke-width="0.9"/>
<text x="40.90" y="397.60" font-size="6.4" text-anchor="end" fill="#2a2a2a" >0.0</text>
<line x1="45.10" y1="381.20" x2="47.50" y2="381.20" stroke="#222" stroke-width="0.9"/>
<text x="40.90" y="383.50" font-size="6.4" text-anchor="end" fill="#2a2a2a" >0.1</text>
<line x1="45.10" y1="367.10" x2="47.50" y2="367.10" stroke="#222" stroke-width="0.9"/>
<text x="40.90" y="369.40" font-size="6.4" text-anchor="end" fill="#2a2a2a" >0.2</text>
<line x1="45.10" y1="353.00" x2="47.50" y2="353.00" stroke="#222" stroke-width="0.9"/>
<text x="40.90" y="355.30" font-size="6.4" text-anchor="end" fill="#2a2a2a" >0.3</text>
<line x1="45.10" y1="338.90" x2="47.50" y2="338.90" stroke="#222" stroke-width="0.9"/>
<text x="40.90" y="341.20" font-size="6.4" text-anchor="end" fill="#2a2a2a" >0.4</text>
<line x1="45.10" y1="324.80" x2="47.50" y2="324.80" stroke="#222" stroke-width="0.9"/>
<text x="40.90" y="327.10" font-size="6.4" text-anchor="end" fill="#2a2a2a" >0.5</text>
<line x1="64.10" y1="395.30" x2="64.10" y2="397.80" stroke="#222" stroke-width="0.9"/>
<line x1="102.50" y1="395.30" x2="102.50" y2="397.80" stroke="#222" stroke-width="0.9"/>
<text x="64.10" y="407.00" font-size="7.1" text-anchor="middle" fill="#2a2a2a" textLength="16.10" lengthAdjust="spacingAndGlyphs" >Day 8</text>
<text x="102.50" y="407.00" font-size="7.1" text-anchor="middle" fill="#2a2a2a" textLength="19.90" lengthAdjust="spacingAndGlyphs" >Day 22</text>
<text x="83.00" y="316.80" font-size="8.4" text-anchor="middle" fill="#2a2a2a" textLength="25.60" lengthAdjust="spacingAndGlyphs" >Spleen</text>
<rect x="104.20" y="331.30" width="5.70" height="5.50" fill="#cbcacb" />
<rect x="104.20" y="340.80" width="5.70" height="5.50" fill="#29a8e2" />
<text x="113.00" y="336.10" font-size="6.6" text-anchor="start" fill="#2a2a2a" >WT</text>
<text x="113.00" y="345.60" font-size="6.6" text-anchor="start" fill="#2a2a2a" textLength="23.50" lengthAdjust="spacingAndGlyphs" >Id3-cKO</text>
<rect x="174.45" y="380.14" width="9.50" height="15.16" fill="#cbcacb" />
<rect x="188.85" y="391.07" width="9.50" height="4.23" fill="#29a8e2" />
<rect x="212.55" y="389.31" width="9.50" height="5.99" fill="#cbcacb" />
<rect x="226.95" y="383.31" width="9.50" height="11.99" fill="#29a8e2" />
<line x1="179.20" y1="395.30" x2="179.20" y2="364.28" stroke="#333" stroke-width="0.7"/>
<line x1="178.00" y1="364.28" x2="180.40" y2="364.28" stroke="#333" stroke-width="0.7"/>
<line x1="178.00" y1="395.30" x2="180.40" y2="395.30" stroke="#333" stroke-width="0.7"/>
<circle cx="179.20" cy="353.00" r="2.15" stroke="#2a2a2a" fill="none" stroke-width="0.85"/>
<circle cx="179.20" cy="363.57" r="2.15" stroke="#2a2a2a" fill="none" stroke-width="0.85"/>
<circle cx="179.20" cy="374.15" r="2.15" stroke="#2a2a2a" fill="none" stroke-width="0.85"/>
<circle cx="179.20" cy="386.49" r="2.15" stroke="#2a2a2a" fill="none" stroke-width="0.85"/>
<circle cx="177.20" cy="392.48" r="2.15" stroke="#2a2a2a" fill="none" stroke-width="0.85"/>
<circle cx="181.20" cy="392.48" r="2.15" stroke="#2a2a2a" fill="none" stroke-width="0.85"/>
<line x1="193.60" y1="394.60" x2="193.60" y2="387.55" stroke="#333" stroke-width="0.7"/>
<line x1="192.40" y1="387.55" x2="194.80" y2="387.55" stroke="#333" stroke-width="0.7"/>
<line x1="192.40" y1="394.60" x2="194.80" y2="394.60" stroke="#333" stroke-width="0.7"/>
<circle cx="191.10" cy="387.55" r="2.15" stroke="#2a2a2a" fill="none" stroke-width="0.85"/>
<circle cx="196.10" cy="387.55" r="2.15" stroke="#2a2a2a" fill="none" stroke-width="0.85"/>
<circle cx="191.10" cy="393.54" r="2.15" stroke="#2a2a2a" fill="none" stroke-width="0.85"/>
<circle cx="196.10" cy="393.54" r="2.15" stroke="#2a2a2a" fill="none" stroke-width="0.85"/>
<line x1="217.30" y1="395.30" x2="217.30" y2="377.68" stroke="#333" stroke-width="0.7"/>
<line x1="216.10" y1="377.68" x2="218.50" y2="377.68" stroke="#333" stroke-width="0.7"/>
<line x1="216.10" y1="395.30" x2="218.50" y2="395.30" stroke="#333" stroke-width="0.7"/>
<circle cx="217.30" cy="370.62" r="2.15" stroke="#2a2a2a" fill="none" stroke-width="0.85"/>
<circle cx="217.30" cy="386.49" r="2.15" stroke="#2a2a2a" fill="none" stroke-width="0.85"/>
<circle cx="214.80" cy="392.48" r="2.15" stroke="#2a2a2a" fill="none" stroke-width="0.85"/>
<circle cx="219.80" cy="392.48" r="2.15" stroke="#2a2a2a" fill="none" stroke-width="0.85"/>
<line x1="231.70" y1="393.89" x2="231.70" y2="372.74" stroke="#333" stroke-width="0.7"/>
<line x1="230.50" y1="372.74" x2="232.90" y2="372.74" stroke="#333" stroke-width="0.7"/>
<line x1="230.50" y1="393.89" x2="232.90" y2="393.89" stroke="#333" stroke-width="0.7"/>
<circle cx="231.70" cy="367.10" r="2.15" stroke="#2a2a2a" fill="none" stroke-width="0.85"/>
<circle cx="231.70" cy="372.39" r="2.15" stroke="#2a2a2a" fill="none" stroke-width="0.85"/>
<circle cx="231.70" cy="379.44" r="2.15" stroke="#2a2a2a" fill="none" stroke-width="0.85"/>
<circle cx="231.70" cy="386.49" r="2.15" stroke="#2a2a2a" fill="none" stroke-width="0.85"/>
<circle cx="229.70" cy="392.83" r="2.15" stroke="#2a2a2a" fill="none" stroke-width="0.85"/>
<circle cx="233.70" cy="392.83" r="2.15" stroke="#2a2a2a" fill="none" stroke-width="0.85"/>
<line x1="169.90" y1="322.20" x2="169.90" y2="395.75" stroke="#222" stroke-width="0.9"/>
<line x1="169.45" y1="395.30" x2="239.80" y2="395.30" stroke="#222" stroke-width="0.9"/>
<line x1="167.50" y1="395.30" x2="169.90" y2="395.30" stroke="#222" stroke-width="0.9"/>
<text x="164.00" y="397.60" font-size="6.4" text-anchor="end" fill="#2a2a2a" >0.00</text>
<line x1="167.50" y1="377.68" x2="169.90" y2="377.68" stroke="#222" stroke-width="0.9"/>
<text x="164.00" y="379.98" font-size="6.4" text-anchor="end" fill="#2a2a2a" >0.05</text>
<line x1="167.50" y1="360.05" x2="169.90" y2="360.05" stroke="#222" stroke-width="0.9"/>
<text x="164.00" y="362.35" font-size="6.4" text-anchor="end" fill="#2a2a2a" >0.10</text>
<line x1="167.50" y1="342.43" x2="169.90" y2="342.43" stroke="#222" stroke-width="0.9"/>
<text x="164.00" y="344.73" font-size="6.4" text-anchor="end" fill="#2a2a2a" >0.15</text>
<line x1="167.50" y1="324.80" x2="169.90" y2="324.80" stroke="#222" stroke-width="0.9"/>
<text x="164.00" y="327.10" font-size="6.4" text-anchor="end" fill="#2a2a2a" >0.20</text>
<line x1="186.40" y1="395.30" x2="186.40" y2="397.80" stroke="#222" stroke-width="0.9"/>
<line x1="224.50" y1="395.30" x2="224.50" y2="397.80" stroke="#222" stroke-width="0.9"/>
<text x="186.40" y="407.00" font-size="7.1" text-anchor="middle" fill="#2a2a2a" textLength="16.10" lengthAdjust="spacingAndGlyphs" >Day 8</text>
<text x="224.50" y="407.00" font-size="7.1" text-anchor="middle" fill="#2a2a2a" textLength="19.90" lengthAdjust="spacingAndGlyphs" >Day 22</text>
<text x="205.70" y="316.80" font-size="8.4" text-anchor="middle" fill="#2a2a2a" textLength="17.20" lengthAdjust="spacingAndGlyphs" >mLN</text>
<rect x="279.25" y="367.10" width="9.50" height="28.20" fill="#cbcacb" />
<rect x="293.45" y="388.25" width="9.50" height="7.05" fill="#29a8e2" />
<rect x="317.15" y="366.04" width="9.50" height="29.26" fill="#cbcacb" />
<rect x="331.35" y="384.37" width="9.50" height="10.93" fill="#29a8e2" />
<line x1="284.00" y1="385.43" x2="284.00" y2="348.77" stroke="#333" stroke-width="0.7"/>
<line x1="282.80" y1="348.77" x2="285.20" y2="348.77" stroke="#333" stroke-width="0.7"/>
<line x1="282.80" y1="385.43" x2="285.20" y2="385.43" stroke="#333" stroke-width="0.7"/>
<circle cx="284.00" cy="338.90" r="2.15" stroke="#2a2a2a" fill="none" stroke-width="0.85"/>
<circle cx="282.50" cy="358.29" r="2.15" stroke="#2a2a2a" fill="none" stroke-width="0.85"/>
<circle cx="285.50" cy="358.29" r="2.15" stroke="#2a2a2a" fill="none" stroke-width="0.85"/>
<circle cx="284.00" cy="363.57" r="2.15" stroke="#2a2a2a" fill="none" stroke-width="0.85"/>
<circle cx="284.00" cy="379.44" r="2.15" stroke="#2a2a2a" fill="none" stroke-width="0.85"/>
<circle cx="282.00" cy="386.49" r="2.15" stroke="#2a2a2a" fill="none" stroke-width="0.85"/>
<circle cx="286.00" cy="386.49" r="2.15" stroke="#2a2a2a" fill="none" stroke-width="0.85"/>
<line x1="298.20" y1="394.60" x2="298.20" y2="381.91" stroke="#333" stroke-width="0.7"/>
<line x1="297.00" y1="381.91" x2="299.40" y2="381.91" stroke="#333" stroke-width="0.7"/>
<line x1="297.00" y1="394.60" x2="299.40" y2="394.60" stroke="#333" stroke-width="0.7"/>
<circle cx="298.20" cy="377.68" r="2.15" stroke="#2a2a2a" fill="none" stroke-width="0.85"/>
<circle cx="296.70" cy="388.25" r="2.15" stroke="#2a2a2a" fill="none" stroke-width="0.85"/>
<circle cx="299.70" cy="388.96" r="2.15" stroke="#2a2a2a" fill="none" stroke-width="0.85"/>
<circle cx="298.20" cy="391.78" r="2.15" stroke="#2a2a2a" fill="none" stroke-width="0.85"/>
<line x1="321.90" y1="386.13" x2="321.90" y2="345.95" stroke="#333" stroke-width="0.7"/>
<line x1="320.70" y1="345.95" x2="323.10" y2="345.95" stroke="#333" stroke-width="0.7"/>
<line x1="320.70" y1="386.13" x2="323.10" y2="386.13" stroke="#333" stroke-width="0.7"/>
<circle cx="321.90" cy="333.61" r="2.15" stroke="#2a2a2a" fill="none" stroke-width="0.85"/>
<circle cx="323.40" cy="365.34" r="2.15" stroke="#2a2a2a" fill="none" stroke-width="0.85"/>
<circle cx="320.40" cy="367.10" r="2.15" stroke="#2a2a2a" fill="none" stroke-width="0.85"/>
<circle cx="321.90" cy="375.91" r="2.15" stroke="#2a2a2a" fill="none" stroke-width="0.85"/>
<circle cx="321.90" cy="379.44" r="2.15" stroke="#2a2a2a" fill="none" stroke-width="0.85"/>
<line x1="336.10" y1="395.30" x2="336.10" y2="372.04" stroke="#333" stroke-width="0.7"/>
<line x1="334.90" y1="372.04" x2="337.30" y2="372.04" stroke="#333" stroke-width="0.7"/>
<line x1="334.90" y1="395.30" x2="337.30" y2="395.30" stroke="#333" stroke-width="0.7"/>
<circle cx="336.10" cy="367.10" r="2.15" stroke="#2a2a2a" fill="none" stroke-width="0.85"/>
<circle cx="336.10" cy="375.91" r="2.15" stroke="#2a2a2a" fill="none" stroke-width="0.85"/>
<circle cx="334.10" cy="393.54" r="2.15" stroke="#2a2a2a" fill="none" stroke-width="0.85"/>
<circle cx="338.10" cy="393.54" r="2.15" stroke="#2a2a2a" fill="none" stroke-width="0.85"/>
<line x1="274.50" y1="322.20" x2="274.50" y2="395.75" stroke="#222" stroke-width="0.9"/>
<line x1="274.05" y1="395.30" x2="344.00" y2="395.30" stroke="#222" stroke-width="0.9"/>
<line x1="272.10" y1="395.30" x2="274.50" y2="395.30" stroke="#222" stroke-width="0.9"/>
<text x="269.00" y="397.60" font-size="6.4" text-anchor="end" fill="#2a2a2a" >0.00</text>
<line x1="272.10" y1="377.68" x2="274.50" y2="377.68" stroke="#222" stroke-width="0.9"/>
<text x="269.00" y="379.98" font-size="6.4" text-anchor="end" fill="#2a2a2a" >0.05</text>
<line x1="272.10" y1="360.05" x2="274.50" y2="360.05" stroke="#222" stroke-width="0.9"/>
<text x="269.00" y="362.35" font-size="6.4" text-anchor="end" fill="#2a2a2a" >0.10</text>
<line x1="272.10" y1="342.43" x2="274.50" y2="342.43" stroke="#222" stroke-width="0.9"/>
<text x="269.00" y="344.73" font-size="6.4" text-anchor="end" fill="#2a2a2a" >0.15</text>
<line x1="272.10" y1="324.80" x2="274.50" y2="324.80" stroke="#222" stroke-width="0.9"/>
<text x="269.00" y="327.10" font-size="6.4" text-anchor="end" fill="#2a2a2a" >0.20</text>
<line x1="291.10" y1="395.30" x2="291.10" y2="397.80" stroke="#222" stroke-width="0.9"/>
<line x1="329.00" y1="395.30" x2="329.00" y2="397.80" stroke="#222" stroke-width="0.9"/>
<text x="291.10" y="407.00" font-size="7.1" text-anchor="middle" fill="#2a2a2a" textLength="16.10" lengthAdjust="spacingAndGlyphs" >Day 8</text>
<text x="329.00" y="407.00" font-size="7.1" text-anchor="middle" fill="#2a2a2a" textLength="19.90" lengthAdjust="spacingAndGlyphs" >Day 22</text>
<text x="310.40" y="316.80" font-size="8.4" text-anchor="middle" fill="#2a2a2a" textLength="17.80" lengthAdjust="spacingAndGlyphs" >Liver</text>
<line x1="285.30" y1="331.30" x2="298.00" y2="331.30" stroke="#222" stroke-width="0.7"/>
<text x="291.60" y="331.60" font-size="6.4" text-anchor="middle" fill="#2a2a2a" >*</text>
<line x1="322.70" y1="327.30" x2="335.20" y2="327.30" stroke="#222" stroke-width="0.7"/>
<text x="329.00" y="327.90" font-size="6.4" text-anchor="middle" fill="#2a2a2a" >*</text>
<text x="366.40" y="303.80" font-size="10.5" text-anchor="start" fill="#111" font-weight="bold" >G</text>
<text x="368.1" y="358.2" font-size="7.3" text-anchor="middle" fill="#2a2a2a" transform="rotate(-90 368.1 358.2)" textLength="42.2" lengthAdjust="spacingAndGlyphs">Percent cell in</text>
<text x="377.6" y="358.2" font-size="7.3" text-anchor="middle" fill="#2a2a2a" transform="rotate(-90 377.6 358.2)" textLength="35.4" lengthAdjust="spacingAndGlyphs">CD4<tspan font-size="4.6" dy="-2.4">+</tspan><tspan dy="2.4"> T cells</tspan></text>
<rect x="399.90" y="379.37" width="5.80" height="15.93" fill="#cbcacb" />
<rect x="409.10" y="358.72" width="5.80" height="36.58" fill="#29a8e2" />
<rect x="424.00" y="365.80" width="5.80" height="29.50" fill="#cbcacb" />
<rect x="433.20" y="361.67" width="5.80" height="33.63" fill="#29a8e2" />
<rect x="448.70" y="385.27" width="5.80" height="10.03" fill="#cbcacb" />
<rect x="457.90" y="380.55" width="5.80" height="14.75" fill="#29a8e2" />
<line x1="402.80" y1="390.23" x2="402.80" y2="368.51" stroke="#333" stroke-width="0.7"/>
<line x1="401.60" y1="368.51" x2="404.00" y2="368.51" stroke="#333" stroke-width="0.7"/>
<line x1="401.60" y1="390.23" x2="404.00" y2="390.23" stroke="#333" stroke-width="0.7"/>
<circle cx="402.80" cy="359.07" r="2.15" stroke="#2a2a2a" fill="none" stroke-width="0.85"/>
<circle cx="402.80" cy="375.83" r="2.15" stroke="#2a2a2a" fill="none" stroke-width="0.85"/>
<circle cx="401.30" cy="378.31" r="2.15" stroke="#2a2a2a" fill="none" stroke-width="0.85"/>
<circle cx="404.30" cy="381.14" r="2.15" stroke="#2a2a2a" fill="none" stroke-width="0.85"/>
<circle cx="401.30" cy="383.85" r="2.15" stroke="#2a2a2a" fill="none" stroke-width="0.85"/>
<circle cx="404.30" cy="385.86" r="2.15" stroke="#2a2a2a" fill="none" stroke-width="0.85"/>
<line x1="412.00" y1="378.78" x2="412.00" y2="338.66" stroke="#333" stroke-width="0.7"/>
<line x1="410.80" y1="338.66" x2="413.20" y2="338.66" stroke="#333" stroke-width="0.7"/>
<line x1="410.80" y1="378.78" x2="413.20" y2="378.78" stroke="#333" stroke-width="0.7"/>
<circle cx="410.40" cy="331.70" r="2.15" stroke="#2a2a2a" fill="none" stroke-width="0.85"/>
<circle cx="413.60" cy="331.70" r="2.15" stroke="#2a2a2a" fill="none" stroke-width="0.85"/>
<circle cx="412.00" cy="355.65" r="2.15" stroke="#2a2a2a" fill="none" stroke-width="0.85"/>
<circle cx="410.50" cy="360.37" r="2.15" stroke="#2a2a2a" fill="none" stroke-width="0.85"/>
<circle cx="413.50" cy="362.26" r="2.15" stroke="#2a2a2a" fill="none" stroke-width="0.85"/>
<circle cx="412.00" cy="380.20" r="2.15" stroke="#2a2a2a" fill="none" stroke-width="0.85"/>
<circle cx="412.00" cy="381.97" r="2.15" stroke="#2a2a2a" fill="none" stroke-width="0.85"/>
<line x1="426.90" y1="372.88" x2="426.90" y2="358.72" stroke="#333" stroke-width="0.7"/>
<line x1="425.70" y1="358.72" x2="428.10" y2="358.72" stroke="#333" stroke-width="0.7"/>
<line x1="425.70" y1="372.88" x2="428.10" y2="372.88" stroke="#333" stroke-width="0.7"/>
<circle cx="426.90" cy="349.99" r="2.15" stroke="#2a2a2a" fill="none" stroke-width="0.85"/>
<circle cx="426.90" cy="360.37" r="2.15" stroke="#2a2a2a" fill="none" stroke-width="0.85"/>
<circle cx="425.40" cy="365.09" r="2.15" stroke="#2a2a2a" fill="none" stroke-width="0.85"/>
<circle cx="428.40" cy="367.92" r="2.15" stroke="#2a2a2a" fill="none" stroke-width="0.85"/>
<circle cx="425.40" cy="369.81" r="2.15" stroke="#2a2a2a" fill="none" stroke-width="0.85"/>
<circle cx="428.40" cy="371.11" r="2.15" stroke="#2a2a2a" fill="none" stroke-width="0.85"/>
<circle cx="426.90" cy="374.53" r="2.15" stroke="#2a2a2a" fill="none" stroke-width="0.85"/>
<line x1="436.10" y1="369.93" x2="436.10" y2="353.41" stroke="#333" stroke-width="0.7"/>
<line x1="434.90" y1="353.41" x2="437.30" y2="353.41" stroke="#333" stroke-width="0.7"/>
<line x1="434.90" y1="369.93" x2="437.30" y2="369.93" stroke="#333" stroke-width="0.7"/>
<circle cx="436.10" cy="344.56" r="2.15" stroke="#2a2a2a" fill="none" stroke-width="0.85"/>
<circle cx="436.10" cy="351.64" r="2.15" stroke="#2a2a2a" fill="none" stroke-width="0.85"/>
<circle cx="436.10" cy="358.48" r="2.15" stroke="#2a2a2a" fill="none" stroke-width="0.85"/>
<circle cx="436.10" cy="362.26" r="2.15" stroke="#2a2a2a" fill="none" stroke-width="0.85"/>
<circle cx="436.10" cy="365.09" r="2.15" stroke="#2a2a2a" fill="none" stroke-width="0.85"/>
<circle cx="436.10" cy="370.76" r="2.15" stroke="#2a2a2a" fill="none" stroke-width="0.85"/>
<circle cx="436.10" cy="375.83" r="2.15" stroke="#2a2a2a" fill="none" stroke-width="0.85"/>
<line x1="451.60" y1="393.53" x2="451.60" y2="377.01" stroke="#333" stroke-width="0.7"/>
<line x1="450.40" y1="377.01" x2="452.80" y2="377.01" stroke="#333" stroke-width="0.7"/>
<line x1="450.40" y1="393.53" x2="452.80" y2="393.53" stroke="#333" stroke-width="0.7"/>
<circle cx="451.60" cy="366.74" r="2.15" stroke="#2a2a2a" fill="none" stroke-width="0.85"/>
<circle cx="451.60" cy="373.71" r="2.15" stroke="#2a2a2a" fill="none" stroke-width="0.85"/>
<circle cx="451.60" cy="377.25" r="2.15" stroke="#2a2a2a" fill="none" stroke-width="0.85"/>
<circle cx="451.60" cy="380.67" r="2.15" stroke="#2a2a2a" fill="none" stroke-width="0.85"/>
<circle cx="451.60" cy="384.09" r="2.15" stroke="#2a2a2a" fill="none" stroke-width="0.85"/>
<circle cx="451.60" cy="387.04" r="2.15" stroke="#2a2a2a" fill="none" stroke-width="0.85"/>
<circle cx="451.60" cy="389.87" r="2.15" stroke="#2a2a2a" fill="none" stroke-width="0.85"/>
<circle cx="451.60" cy="391.17" r="2.15" stroke="#2a2a2a" fill="none" stroke-width="0.85"/>
<line x1="460.80" y1="387.39" x2="460.80" y2="373.71" stroke="#333" stroke-width="0.7"/>
<line x1="459.60" y1="373.71" x2="462.00" y2="373.71" stroke="#333" stroke-width="0.7"/>
<line x1="459.60" y1="387.39" x2="462.00" y2="387.39" stroke="#333" stroke-width="0.7"/>
<circle cx="460.80" cy="366.74" r="2.15" stroke="#2a2a2a" fill="none" stroke-width="0.85"/>
<circle cx="460.80" cy="377.84" r="2.15" stroke="#2a2a2a" fill="none" stroke-width="0.85"/>
<circle cx="460.80" cy="380.67" r="2.15" stroke="#2a2a2a" fill="none" stroke-width="0.85"/>
<circle cx="460.80" cy="383.74" r="2.15" stroke="#2a2a2a" fill="none" stroke-width="0.85"/>
<circle cx="460.80" cy="387.04" r="2.15" stroke="#2a2a2a" fill="none" stroke-width="0.85"/>
<circle cx="460.80" cy="389.40" r="2.15" stroke="#2a2a2a" fill="none" stroke-width="0.85"/>
<line x1="396.50" y1="321.90" x2="396.50" y2="395.75" stroke="#222" stroke-width="0.9"/>
<line x1="396.05" y1="395.30" x2="467.80" y2="395.30" stroke="#222" stroke-width="0.9"/>
<line x1="394.10" y1="395.30" x2="396.50" y2="395.30" stroke="#222" stroke-width="0.9"/>
<text x="390.20" y="397.60" font-size="6.4" text-anchor="end" fill="#2a2a2a" >0</text>
<line x1="394.10" y1="383.50" x2="396.50" y2="383.50" stroke="#222" stroke-width="0.9"/>
<text x="390.20" y="385.80" font-size="6.4" text-anchor="end" fill="#2a2a2a" >10</text>
<line x1="394.10" y1="371.70" x2="396.50" y2="371.70" stroke="#222" stroke-width="0.9"/>
<text x="390.20" y="374.00" font-size="6.4" text-anchor="end" fill="#2a2a2a" >20</text>
<line x1="394.10" y1="359.90" x2="396.50" y2="359.90" stroke="#222" stroke-width="0.9"/>
<text x="390.20" y="362.20" font-size="6.4" text-anchor="end" fill="#2a2a2a" >30</text>
<line x1="394.10" y1="348.10" x2="396.50" y2="348.10" stroke="#222" stroke-width="0.9"/>
<text x="390.20" y="350.40" font-size="6.4" text-anchor="end" fill="#2a2a2a" >40</text>
<line x1="394.10" y1="336.30" x2="396.50" y2="336.30" stroke="#222" stroke-width="0.9"/>
<text x="390.20" y="338.60" font-size="6.4" text-anchor="end" fill="#2a2a2a" >50</text>
<line x1="394.10" y1="324.50" x2="396.50" y2="324.50" stroke="#222" stroke-width="0.9"/>
<text x="390.20" y="326.80" font-size="6.4" text-anchor="end" fill="#2a2a2a" >60</text>
<line x1="407.40" y1="395.30" x2="407.40" y2="397.80" stroke="#222" stroke-width="0.9"/>
<line x1="431.50" y1="395.30" x2="431.50" y2="397.80" stroke="#222" stroke-width="0.9"/>
<line x1="456.20" y1="395.30" x2="456.20" y2="397.80" stroke="#222" stroke-width="0.9"/>
<text x="407.40" y="406.60" font-size="7.1" text-anchor="middle" fill="#2a2a2a" textLength="16.20" lengthAdjust="spacingAndGlyphs" >CCR9</text>
<text x="431.50" y="406.60" font-size="7.1" text-anchor="middle" fill="#2a2a2a" textLength="14.60" lengthAdjust="spacingAndGlyphs" >α4β7</text>
<text x="456.20" y="406.60" font-size="7.1" text-anchor="middle" fill="#2a2a2a" textLength="16.20" lengthAdjust="spacingAndGlyphs" >CCR5</text>
<line x1="400.40" y1="325.30" x2="416.30" y2="325.30" stroke="#222" stroke-width="0.7"/>
<text x="408.30" y="325.60" font-size="6.4" text-anchor="middle" fill="#2a2a2a" >*</text>
<rect x="452.40" y="327.70" width="5.70" height="5.50" fill="#cbcacb" />
<rect x="452.40" y="338.30" width="5.70" height="5.50" fill="#29a8e2" />
<text x="461.20" y="332.50" font-size="6.6" text-anchor="start" fill="#2a2a2a" >WT</text>
<text x="461.20" y="343.10" font-size="6.6" text-anchor="start" fill="#2a2a2a" textLength="23.50" lengthAdjust="spacingAndGlyphs" >Id3-cKO</text>
</svg>
</body></html>
